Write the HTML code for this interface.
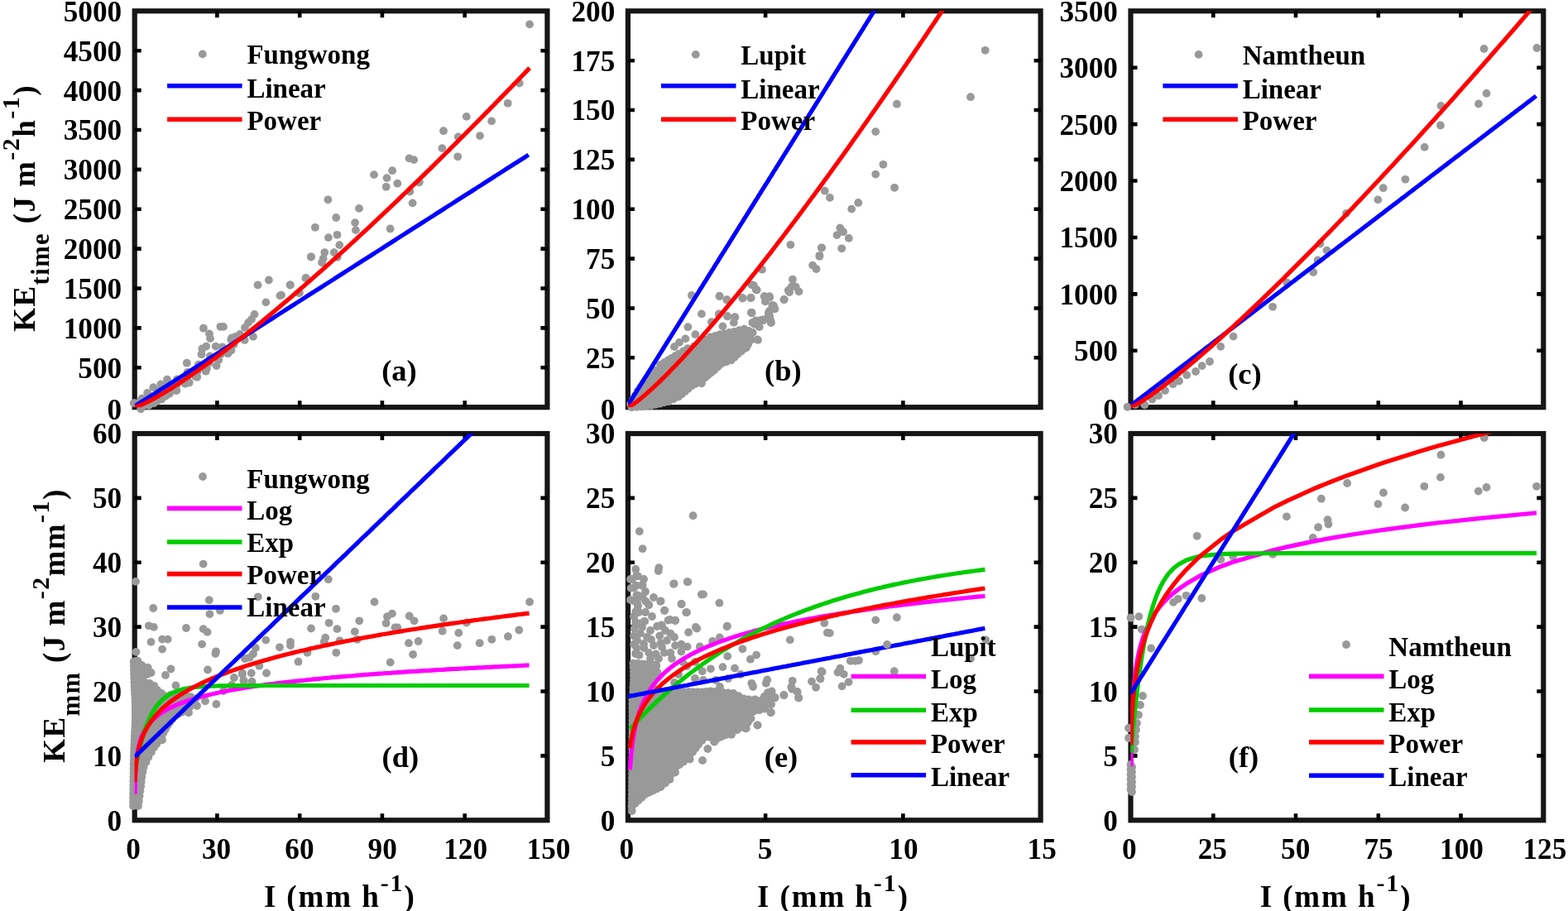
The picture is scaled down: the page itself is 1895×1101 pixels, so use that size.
<!DOCTYPE html><html><head><meta charset="utf-8"><title>KE vs I</title><style>html,body{margin:0;padding:0;background:#fff;overflow:hidden}svg{display:block}</style></head><body><div id="w"><svg width="1895" height="1101" viewBox="0 0 1895 1101" font-family='"Liberation Serif", "Times New Roman", serif' font-weight="bold">
<defs>
<clipPath id="clipa"><rect x="162.7" y="13.3" width="498.7" height="478.9"/></clipPath>
<clipPath id="clipb"><rect x="758.9" y="13.3" width="498.7" height="478.9"/></clipPath>
<clipPath id="clipc"><rect x="1366.5" y="13.3" width="498.8" height="478.9"/></clipPath>
<clipPath id="clipd"><rect x="162.7" y="524.0" width="498.7" height="467.3"/></clipPath>
<clipPath id="clipe"><rect x="758.9" y="524.0" width="498.7" height="467.3"/></clipPath>
<clipPath id="clipf"><rect x="1366.5" y="524.0" width="498.8" height="467.3"/></clipPath>
</defs>
<rect width="1895" height="1101" fill="#fff"/>
<rect x="162.7" y="13.3" width="498.7" height="478.9" fill="none" stroke="#161616" stroke-width="6.2"/>
<path d="M262.4,492.2v-8M262.4,13.3v8M362.2,492.2v-8M362.2,13.3v8M461.9,492.2v-8M461.9,13.3v8M561.7,492.2v-8M561.7,13.3v8M162.7,444.3h8M661.4,444.3h-8M162.7,396.4h8M661.4,396.4h-8M162.7,348.5h8M661.4,348.5h-8M162.7,300.6h8M661.4,300.6h-8M162.7,252.8h8M661.4,252.8h-8M162.7,204.9h8M661.4,204.9h-8M162.7,157h8M661.4,157h-8M162.7,109.1h8M661.4,109.1h-8M162.7,61.2h8M661.4,61.2h-8" stroke="#000" stroke-width="4.6" fill="none"/>
<g font-size="35.2"><text x="147.1" y="506.6" text-anchor="end">0</text><text x="147.1" y="456.7" text-anchor="end">500</text><text x="147.1" y="408.8" text-anchor="end">1000</text><text x="147.1" y="360.9" text-anchor="end">1500</text><text x="147.1" y="313" text-anchor="end">2000</text><text x="147.1" y="265.1" text-anchor="end">2500</text><text x="147.1" y="217.3" text-anchor="end">3000</text><text x="147.1" y="169.4" text-anchor="end">3500</text><text x="147.1" y="121.5" text-anchor="end">4000</text><text x="147.1" y="73.6" text-anchor="end">4500</text><text x="147.1" y="25.7" text-anchor="end">5000</text></g>
<rect x="758.9" y="13.3" width="498.7" height="478.9" fill="none" stroke="#161616" stroke-width="6.2"/>
<path d="M925.1,492.2v-8M925.1,13.3v8M1091.4,492.2v-8M1091.4,13.3v8M758.9,432.3h8M1257.6,432.3h-8M758.9,372.5h8M1257.6,372.5h-8M758.9,312.6h8M1257.6,312.6h-8M758.9,252.8h8M1257.6,252.8h-8M758.9,192.9h8M1257.6,192.9h-8M758.9,133h8M1257.6,133h-8M758.9,73.2h8M1257.6,73.2h-8" stroke="#000" stroke-width="4.6" fill="none"/>
<g font-size="35.2"><text x="743.3" y="506.6" text-anchor="end">0</text><text x="743.3" y="444.7" text-anchor="end">25</text><text x="743.3" y="384.9" text-anchor="end">50</text><text x="743.3" y="325" text-anchor="end">75</text><text x="743.3" y="265.1" text-anchor="end">100</text><text x="743.3" y="205.3" text-anchor="end">125</text><text x="743.3" y="145.4" text-anchor="end">150</text><text x="743.3" y="85.6" text-anchor="end">175</text><text x="743.3" y="25.7" text-anchor="end">200</text></g>
<rect x="1366.5" y="13.3" width="498.8" height="478.9" fill="none" stroke="#161616" stroke-width="6.2"/>
<path d="M1466.3,492.2v-8M1466.3,13.3v8M1566,492.2v-8M1566,13.3v8M1665.8,492.2v-8M1665.8,13.3v8M1765.5,492.2v-8M1765.5,13.3v8M1366.5,423.8h8M1865.3,423.8h-8M1366.5,355.4h8M1865.3,355.4h-8M1366.5,287h8M1865.3,287h-8M1366.5,218.5h8M1865.3,218.5h-8M1366.5,150.1h8M1865.3,150.1h-8M1366.5,81.7h8M1865.3,81.7h-8" stroke="#000" stroke-width="4.6" fill="none"/>
<g font-size="35.2"><text x="1350.9" y="506.6" text-anchor="end">0</text><text x="1350.9" y="436.2" text-anchor="end">500</text><text x="1350.9" y="367.8" text-anchor="end">1000</text><text x="1350.9" y="299.4" text-anchor="end">1500</text><text x="1350.9" y="230.9" text-anchor="end">2000</text><text x="1350.9" y="162.5" text-anchor="end">2500</text><text x="1350.9" y="94.1" text-anchor="end">3000</text><text x="1350.9" y="25.7" text-anchor="end">3500</text></g>
<rect x="162.7" y="524.0" width="498.7" height="467.3" fill="none" stroke="#161616" stroke-width="6.2"/>
<path d="M262.4,991.3v-8M262.4,524v8M362.2,991.3v-8M362.2,524v8M461.9,991.3v-8M461.9,524v8M561.7,991.3v-8M561.7,524v8M162.7,913.4h8M661.4,913.4h-8M162.7,835.5h8M661.4,835.5h-8M162.7,757.6h8M661.4,757.6h-8M162.7,679.8h8M661.4,679.8h-8M162.7,601.9h8M661.4,601.9h-8" stroke="#000" stroke-width="4.6" fill="none"/>
<g font-size="35.2"><text x="147.1" y="1003.7" text-anchor="end">0</text><text x="147.1" y="925.8" text-anchor="end">10</text><text x="147.1" y="847.9" text-anchor="end">20</text><text x="147.1" y="770" text-anchor="end">30</text><text x="147.1" y="692.2" text-anchor="end">40</text><text x="147.1" y="614.3" text-anchor="end">50</text><text x="147.1" y="536.4" text-anchor="end">60</text><text x="161.1" y="1038.2" text-anchor="middle">0</text><text x="261.5" y="1038.2" text-anchor="middle">30</text><text x="361.9" y="1038.2" text-anchor="middle">60</text><text x="462.2" y="1038.2" text-anchor="middle">90</text><text x="562.6" y="1038.2" text-anchor="middle">120</text><text x="663" y="1038.2" text-anchor="middle">150</text></g>
<rect x="758.9" y="524.0" width="498.7" height="467.3" fill="none" stroke="#161616" stroke-width="6.2"/>
<path d="M925.1,991.3v-8M925.1,524v8M1091.4,991.3v-8M1091.4,524v8M758.9,913.4h8M1257.6,913.4h-8M758.9,835.5h8M1257.6,835.5h-8M758.9,757.6h8M1257.6,757.6h-8M758.9,679.8h8M1257.6,679.8h-8M758.9,601.9h8M1257.6,601.9h-8" stroke="#000" stroke-width="4.6" fill="none"/>
<g font-size="35.2"><text x="743.3" y="1003.7" text-anchor="end">0</text><text x="743.3" y="925.8" text-anchor="end">5</text><text x="743.3" y="847.9" text-anchor="end">10</text><text x="743.3" y="770" text-anchor="end">15</text><text x="743.3" y="692.2" text-anchor="end">20</text><text x="743.3" y="614.3" text-anchor="end">25</text><text x="743.3" y="536.4" text-anchor="end">30</text><text x="757.3" y="1038.2" text-anchor="middle">0</text><text x="924.6" y="1038.2" text-anchor="middle">5</text><text x="1091.9" y="1038.2" text-anchor="middle">10</text><text x="1259.2" y="1038.2" text-anchor="middle">15</text></g>
<rect x="1366.5" y="524.0" width="498.8" height="467.3" fill="none" stroke="#161616" stroke-width="6.2"/>
<path d="M1466.3,991.3v-8M1466.3,524v8M1566,991.3v-8M1566,524v8M1665.8,991.3v-8M1665.8,524v8M1765.5,991.3v-8M1765.5,524v8M1366.5,913.4h8M1865.3,913.4h-8M1366.5,835.5h8M1865.3,835.5h-8M1366.5,757.6h8M1865.3,757.6h-8M1366.5,679.8h8M1865.3,679.8h-8M1366.5,601.9h8M1865.3,601.9h-8" stroke="#000" stroke-width="4.6" fill="none"/>
<g font-size="35.2"><text x="1350.9" y="1003.7" text-anchor="end">0</text><text x="1350.9" y="925.8" text-anchor="end">5</text><text x="1350.9" y="847.9" text-anchor="end">10</text><text x="1350.9" y="770" text-anchor="end">15</text><text x="1350.9" y="692.2" text-anchor="end">20</text><text x="1350.9" y="614.3" text-anchor="end">25</text><text x="1350.9" y="536.4" text-anchor="end">30</text><text x="1364.9" y="1038.2" text-anchor="middle">0</text><text x="1465.3" y="1038.2" text-anchor="middle">25</text><text x="1565.7" y="1038.2" text-anchor="middle">50</text><text x="1666.1" y="1038.2" text-anchor="middle">75</text><text x="1766.5" y="1038.2" text-anchor="middle">100</text><text x="1866.9" y="1038.2" text-anchor="middle">125</text></g>
<g fill="#999999"><circle cx="494.5" cy="191.4" r="4.9"/><circle cx="500.2" cy="193.1" r="4.9"/><circle cx="474.1" cy="206.2" r="4.9"/><circle cx="452" cy="211.1" r="4.9"/><circle cx="467.5" cy="215.1" r="4.9"/><circle cx="466.7" cy="225.8" r="4.9"/><circle cx="480.3" cy="221.7" r="4.9"/><circle cx="506.7" cy="220.1" r="4.9"/><circle cx="495.3" cy="231.5" r="4.9"/><circle cx="498.6" cy="245.4" r="4.9"/><circle cx="396.4" cy="241.3" r="4.9"/><circle cx="434" cy="251.9" r="4.9"/><circle cx="406.2" cy="263" r="4.9"/><circle cx="429.1" cy="269.1" r="4.9"/><circle cx="429.9" cy="278.1" r="4.9"/><circle cx="471.6" cy="276.5" r="4.9"/><circle cx="380.9" cy="274.8" r="4.9"/><circle cx="396.9" cy="287.1" r="4.9"/><circle cx="407.5" cy="283.8" r="4.9"/><circle cx="410.3" cy="296.1" r="4.9"/><circle cx="392.3" cy="305.1" r="4.9"/><circle cx="390.7" cy="312.4" r="4.9"/><circle cx="389" cy="317.3" r="4.9"/><circle cx="403.8" cy="305.1" r="4.9"/><circle cx="407.8" cy="310.8" r="4.9"/><circle cx="376" cy="310.3" r="4.9"/><circle cx="369.4" cy="336.1" r="4.9"/><circle cx="350.6" cy="344.3" r="4.9"/><circle cx="361.3" cy="354.1" r="4.9"/><circle cx="340" cy="356.6" r="4.9"/><circle cx="245.9" cy="396.7" r="4.9"/><circle cx="266.4" cy="394.8" r="4.9"/><circle cx="253" cy="403.4" r="4.9"/><circle cx="254" cy="409.1" r="4.9"/><circle cx="279.3" cy="410.5" r="4.9"/><circle cx="249.2" cy="418.6" r="4.9"/><circle cx="244.4" cy="421.5" r="4.9"/><circle cx="260.7" cy="418.6" r="4.9"/><circle cx="243.5" cy="428.2" r="4.9"/><circle cx="225.8" cy="438.7" r="4.9"/><circle cx="261.6" cy="442" r="4.9"/><circle cx="248.7" cy="448.7" r="4.9"/><circle cx="275.5" cy="427.2" r="4.9"/><circle cx="238.2" cy="455.8" r="4.9"/><circle cx="228.7" cy="462.5" r="4.9"/><circle cx="202" cy="458.7" r="4.9"/><circle cx="194.4" cy="464.4" r="4.9"/><circle cx="185.3" cy="468.2" r="4.9"/><circle cx="178.1" cy="474.9" r="4.9"/><circle cx="213.4" cy="472.1" r="4.9"/><circle cx="204.8" cy="475.9" r="4.9"/><circle cx="195.3" cy="482.6" r="4.9"/><circle cx="185.8" cy="487.3" r="4.9"/><circle cx="171.5" cy="481.6" r="4.9"/><circle cx="163.8" cy="487.3" r="4.9"/><circle cx="172.4" cy="491.1" r="4.9"/><circle cx="375.9" cy="310.5" r="4.9"/><circle cx="324.9" cy="338.5" r="4.9"/><circle cx="311.5" cy="344.5" r="4.9"/><circle cx="350.9" cy="344.5" r="4.9"/><circle cx="369.9" cy="336" r="4.9"/><circle cx="338.4" cy="357.4" r="4.9"/><circle cx="321.4" cy="365.4" r="4.9"/><circle cx="361.9" cy="353.9" r="4.9"/><circle cx="307.5" cy="379.9" r="4.9"/><circle cx="304" cy="385.9" r="4.9"/><circle cx="300" cy="389.9" r="4.9"/><circle cx="296" cy="395.9" r="4.9"/><circle cx="290" cy="403.9" r="4.9"/><circle cx="280" cy="408.4" r="4.9"/><circle cx="306" cy="406.9" r="4.9"/><circle cx="270" cy="394.9" r="4.9"/><circle cx="613.7" cy="124.8" r="4.9"/><circle cx="563.8" cy="140.9" r="4.9"/><circle cx="594.1" cy="146.4" r="4.9"/><circle cx="536" cy="158.2" r="4.9"/><circle cx="553.8" cy="165.5" r="4.9"/><circle cx="580" cy="164.1" r="4.9"/><circle cx="534.3" cy="179.1" r="4.9"/><circle cx="553.2" cy="189.3" r="4.9"/><circle cx="506.5" cy="220.4" r="4.9"/><circle cx="640.1" cy="29.4" r="4.9"/><circle cx="627.7" cy="100.5" r="4.9"/><circle cx="161.7" cy="487.1" r="4.9"/><circle cx="170.2" cy="494.3" r="4.9"/><circle cx="171.1" cy="489.7" r="4.9"/><circle cx="170.9" cy="483.3" r="4.9"/><circle cx="179.7" cy="490" r="4.9"/><circle cx="180.7" cy="485.1" r="4.9"/><circle cx="180.8" cy="478.3" r="4.9"/><circle cx="189.7" cy="484.8" r="4.9"/><circle cx="191" cy="479.5" r="4.9"/><circle cx="191.2" cy="472.5" r="4.9"/><circle cx="200.4" cy="478.6" r="4.9"/><circle cx="201.9" cy="473.1" r="4.9"/><circle cx="202.3" cy="465.8" r="4.9"/><circle cx="211.7" cy="471.7" r="4.9"/><circle cx="213.4" cy="465.8" r="4.9"/><circle cx="214.1" cy="458.3" r="4.9"/><circle cx="223.7" cy="463.9" r="4.9"/><circle cx="225.6" cy="457.8" r="4.9"/><circle cx="226.6" cy="449.9" r="4.9"/><circle cx="236.4" cy="455.2" r="4.9"/><circle cx="238.6" cy="448.8" r="4.9"/><circle cx="239.8" cy="440.6" r="4.9"/><circle cx="249.9" cy="445.6" r="4.9"/><circle cx="252.4" cy="438.9" r="4.9"/><circle cx="253.9" cy="430.4" r="4.9"/><circle cx="264.3" cy="435.1" r="4.9"/><circle cx="267.1" cy="428.1" r="4.9"/><circle cx="268.8" cy="419.3" r="4.9"/><circle cx="279.5" cy="423.6" r="4.9"/><circle cx="282.6" cy="416.2" r="4.9"/><circle cx="284.7" cy="407" r="4.9"/><circle cx="295.7" cy="411" r="4.9"/></g>
<polyline clip-path="url(#clipa)" points="162.7,491.1 165.1,489.5 167.5,488 169.8,486.5 172.2,485 174.6,483.5 177,481.9 179.4,480.4 181.7,478.9 184.1,477.4 186.5,475.9 188.9,474.3 191.3,472.8 193.6,471.3 196,469.8 198.4,468.3 200.8,466.7 203.2,465.2 205.5,463.7 207.9,462.2 210.3,460.7 212.7,459.1 215.1,457.6 217.5,456.1 219.8,454.6 222.2,453.1 224.6,451.5 227,450 229.4,448.5 231.7,447 234.1,445.5 236.5,443.9 238.9,442.4 241.3,440.9 243.6,439.4 246,437.9 248.4,436.3 250.8,434.8 253.2,433.3 255.5,431.8 257.9,430.3 260.3,428.7 262.7,427.2 265.1,425.7 267.4,424.2 269.8,422.7 272.2,421.1 274.6,419.6 277,418.1 279.3,416.6 281.7,415.1 284.1,413.5 286.5,412 288.9,410.5 291.2,409 293.6,407.5 296,405.9 298.4,404.4 300.8,402.9 303.1,401.4 305.5,399.9 307.9,398.3 310.3,396.8 312.7,395.3 315,393.8 317.4,392.3 319.8,390.8 322.2,389.2 324.6,387.7 327,386.2 329.3,384.7 331.7,383.2 334.1,381.6 336.5,380.1 338.9,378.6 341.2,377.1 343.6,375.6 346,374 348.4,372.5 350.8,371 353.1,369.5 355.5,368 357.9,366.4 360.3,364.9 362.7,363.4 365,361.9 367.4,360.4 369.8,358.8 372.2,357.3 374.6,355.8 376.9,354.3 379.3,352.8 381.7,351.2 384.1,349.7 386.5,348.2 388.8,346.7 391.2,345.2 393.6,343.6 396,342.1 398.4,340.6 400.7,339.1 403.1,337.6 405.5,336 407.9,334.5 410.3,333 412.6,331.5 415,330 417.4,328.4 419.8,326.9 422.2,325.4 424.6,323.9 426.9,322.4 429.3,320.8 431.7,319.3 434.1,317.8 436.5,316.3 438.8,314.8 441.2,313.2 443.6,311.7 446,310.2 448.4,308.7 450.7,307.2 453.1,305.6 455.5,304.1 457.9,302.6 460.3,301.1 462.6,299.6 465,298 467.4,296.5 469.8,295 472.2,293.5 474.5,292 476.9,290.5 479.3,288.9 481.7,287.4 484.1,285.9 486.4,284.4 488.8,282.9 491.2,281.3 493.6,279.8 496,278.3 498.3,276.8 500.7,275.3 503.1,273.7 505.5,272.2 507.9,270.7 510.2,269.2 512.6,267.7 515,266.1 517.4,264.6 519.8,263.1 522.1,261.6 524.5,260.1 526.9,258.5 529.3,257 531.7,255.5 534.1,254 536.4,252.5 538.8,250.9 541.2,249.4 543.6,247.9 546,246.4 548.3,244.9 550.7,243.3 553.1,241.8 555.5,240.3 557.9,238.8 560.2,237.3 562.6,235.7 565,234.2 567.4,232.7 569.8,231.2 572.1,229.7 574.5,228.1 576.9,226.6 579.3,225.1 581.7,223.6 584,222.1 586.4,220.5 588.8,219 591.2,217.5 593.6,216 595.9,214.5 598.3,212.9 600.7,211.4 603.1,209.9 605.5,208.4 607.8,206.9 610.2,205.3 612.6,203.8 615,202.3 617.4,200.8 619.7,199.3 622.1,197.7 624.5,196.2 626.9,194.7 629.3,193.2 631.7,191.7 634,190.2 636.4,188.6 638.8,187.1" fill="none" stroke="#0000ff" stroke-width="5.2" stroke-linejoin="round"/>
<polyline clip-path="url(#clipa)" points="162.7,492.2 165.1,491.5 167.5,490.7 169.9,489.7 172.2,488.6 174.6,487.5 177,486.4 179.4,485.2 181.8,484 184.2,482.7 186.6,481.4 189,480.1 191.3,478.7 193.7,477.3 196.1,476 198.5,474.5 200.9,473.1 203.3,471.6 205.7,470.2 208.1,468.7 210.4,467.1 212.8,465.6 215.2,464.1 217.6,462.5 220,460.9 222.4,459.3 224.8,457.7 227.2,456.1 229.5,454.5 231.9,452.9 234.3,451.2 236.7,449.5 239.1,447.9 241.5,446.2 243.9,444.5 246.2,442.8 248.6,441.1 251,439.3 253.4,437.6 255.8,435.8 258.2,434.1 260.6,432.3 263,430.5 265.3,428.7 267.7,426.9 270.1,425.1 272.5,423.3 274.9,421.5 277.3,419.7 279.7,417.8 282.1,416 284.4,414.1 286.8,412.3 289.2,410.4 291.6,408.5 294,406.6 296.4,404.8 298.8,402.9 301.2,400.9 303.5,399 305.9,397.1 308.3,395.2 310.7,393.3 313.1,391.3 315.5,389.4 317.9,387.4 320.2,385.4 322.6,383.5 325,381.5 327.4,379.5 329.8,377.5 332.2,375.6 334.6,373.6 337,371.6 339.3,369.5 341.7,367.5 344.1,365.5 346.5,363.5 348.9,361.4 351.3,359.4 353.7,357.4 356.1,355.3 358.4,353.3 360.8,351.2 363.2,349.1 365.6,347.1 368,345 370.4,342.9 372.8,340.8 375.2,338.7 377.5,336.6 379.9,334.5 382.3,332.4 384.7,330.3 387.1,328.2 389.5,326.1 391.9,324 394.2,321.8 396.6,319.7 399,317.6 401.4,315.4 403.8,313.3 406.2,311.1 408.6,309 411,306.8 413.3,304.6 415.7,302.5 418.1,300.3 420.5,298.1 422.9,295.9 425.3,293.7 427.7,291.5 430.1,289.3 432.4,287.1 434.8,284.9 437.2,282.7 439.6,280.5 442,278.3 444.4,276.1 446.8,273.8 449.2,271.6 451.5,269.4 453.9,267.1 456.3,264.9 458.7,262.7 461.1,260.4 463.5,258.2 465.9,255.9 468.3,253.6 470.6,251.4 473,249.1 475.4,246.8 477.8,244.6 480.2,242.3 482.6,240 485,237.7 487.3,235.4 489.7,233.1 492.1,230.8 494.5,228.5 496.9,226.2 499.3,223.9 501.7,221.6 504.1,219.3 506.4,217 508.8,214.6 511.2,212.3 513.6,210 516,207.7 518.4,205.3 520.8,203 523.2,200.6 525.5,198.3 527.9,195.9 530.3,193.6 532.7,191.2 535.1,188.9 537.5,186.5 539.9,184.2 542.3,181.8 544.6,179.4 547,177 549.4,174.7 551.8,172.3 554.2,169.9 556.6,167.5 559,165.1 561.3,162.7 563.7,160.3 566.1,157.9 568.5,155.5 570.9,153.1 573.3,150.7 575.7,148.3 578.1,145.9 580.4,143.5 582.8,141 585.2,138.6 587.6,136.2 590,133.8 592.4,131.3 594.8,128.9 597.2,126.5 599.5,124 601.9,121.6 604.3,119.1 606.7,116.7 609.1,114.2 611.5,111.8 613.9,109.3 616.3,106.9 618.6,104.4 621,101.9 623.4,99.5 625.8,97 628.2,94.5 630.6,92 633,89.5 635.3,87.1 637.7,84.6 640.1,82.1" fill="none" stroke="#ff0000" stroke-width="5.2" stroke-linejoin="round"/>
<polygon points="759.5,490 768,474 778,459 788,448 795,441 804.4,434.9 817.9,425.9 829.9,418.4 838.9,415.4 850.9,410.9 859.9,404.9 871.9,401.9 889.8,398.9 901.8,395.9 912.3,400.4 910.8,409.4 903.3,419.9 894.3,427.4 886.8,434.9 874.9,439.4 865.9,448.4 853.9,458.8 844.9,464.8 835,469.5 818.6,482.2 805.9,487.6 785,492.2 761,494" fill="#999999"/>
<g fill="#999999"><circle cx="835.9" cy="357" r="4.9"/><circle cx="847.9" cy="379.4" r="4.9"/><circle cx="831.4" cy="395.2" r="4.9"/><circle cx="840.4" cy="404.2" r="4.9"/><circle cx="828.4" cy="409.4" r="4.9"/><circle cx="814.9" cy="419.1" r="4.9"/><circle cx="820.9" cy="413.9" r="4.9"/><circle cx="869.6" cy="357.7" r="4.9"/><circle cx="878.6" cy="362.2" r="4.9"/><circle cx="868.9" cy="379.4" r="4.9"/><circle cx="859.9" cy="389.2" r="4.9"/><circle cx="879.3" cy="382.4" r="4.9"/><circle cx="888.3" cy="383.2" r="4.9"/><circle cx="886.8" cy="389.9" r="4.9"/><circle cx="873.4" cy="394.4" r="4.9"/><circle cx="897.3" cy="360" r="4.9"/><circle cx="907.1" cy="360" r="4.9"/><circle cx="907.8" cy="377.9" r="4.9"/><circle cx="910.8" cy="345" r="4.9"/><circle cx="913.8" cy="350.2" r="4.9"/><circle cx="924.3" cy="358.5" r="4.9"/><circle cx="930.3" cy="359.2" r="4.9"/><circle cx="933.3" cy="369" r="4.9"/><circle cx="936.3" cy="373.4" r="4.9"/><circle cx="928.8" cy="377.9" r="4.9"/><circle cx="930.3" cy="383.9" r="4.9"/><circle cx="931.8" cy="389.9" r="4.9"/><circle cx="919.8" cy="386.9" r="4.9"/><circle cx="913.8" cy="391.4" r="4.9"/><circle cx="909.3" cy="389.9" r="4.9"/><circle cx="916" cy="410.9" r="4.9"/><circle cx="901.8" cy="419.9" r="4.9"/><circle cx="947.5" cy="362.2" r="4.9"/><circle cx="952.8" cy="351" r="4.9"/><circle cx="883.8" cy="433.4" r="4.9"/><circle cx="847.9" cy="463.3" r="4.9"/><circle cx="840.4" cy="430.4" r="4.9"/><circle cx="955.4" cy="295.8" r="4.9"/><circle cx="992.9" cy="299.6" r="4.9"/><circle cx="990.3" cy="309.8" r="4.9"/><circle cx="982.1" cy="320.6" r="4.9"/><circle cx="986.5" cy="325" r="4.9"/><circle cx="921" cy="325.7" r="4.9"/><circle cx="957.9" cy="337.7" r="4.9"/><circle cx="956.6" cy="346.6" r="4.9"/><circle cx="961.7" cy="346.6" r="4.9"/><circle cx="965.5" cy="352.4" r="4.9"/><circle cx="954.1" cy="353" r="4.9"/><circle cx="947.7" cy="361.9" r="4.9"/><circle cx="908.3" cy="344.1" r="4.9"/><circle cx="914.7" cy="350.5" r="4.9"/><circle cx="869.5" cy="358.1" r="4.9"/><circle cx="878.4" cy="362.5" r="4.9"/><circle cx="897.5" cy="360.6" r="4.9"/><circle cx="907.7" cy="360" r="4.9"/><circle cx="923.6" cy="358.1" r="4.9"/><circle cx="929.9" cy="358.1" r="4.9"/><circle cx="924.9" cy="364.4" r="4.9"/><circle cx="935" cy="369.5" r="4.9"/><circle cx="936.3" cy="373.3" r="4.9"/><circle cx="929.9" cy="375.9" r="4.9"/><circle cx="928.7" cy="382.2" r="4.9"/><circle cx="908.3" cy="377.8" r="4.9"/><circle cx="868.9" cy="379.7" r="4.9"/><circle cx="879.1" cy="382.2" r="4.9"/><circle cx="888" cy="383.5" r="4.9"/><circle cx="913.4" cy="387.3" r="4.9"/><circle cx="922.3" cy="387.3" r="4.9"/><circle cx="931.2" cy="387.3" r="4.9"/><circle cx="1083.9" cy="125.7" r="4.9"/><circle cx="1058.2" cy="159.1" r="4.9"/><circle cx="1067.4" cy="198.8" r="4.9"/><circle cx="1058.2" cy="210.6" r="4.9"/><circle cx="1081.1" cy="226.8" r="4.9"/><circle cx="996.8" cy="230.7" r="4.9"/><circle cx="1002.9" cy="238.9" r="4.9"/><circle cx="1037.2" cy="245" r="4.9"/><circle cx="1029.2" cy="252.6" r="4.9"/><circle cx="1015.3" cy="275.5" r="4.9"/><circle cx="1019.1" cy="280.2" r="4.9"/><circle cx="1011.5" cy="284.1" r="4.9"/><circle cx="1025.8" cy="287.9" r="4.9"/><circle cx="993" cy="299.3" r="4.9"/><circle cx="1017.2" cy="300.3" r="4.9"/><circle cx="990.5" cy="308.8" r="4.9"/><circle cx="1190.7" cy="60.8" r="4.9"/><circle cx="1173" cy="117.2" r="4.9"/><circle cx="908.6" cy="378.2" r="4.9"/><circle cx="934.5" cy="372.7" r="4.9"/><circle cx="930" cy="381.8" r="4.9"/><circle cx="931.8" cy="390" r="4.9"/><circle cx="922.7" cy="386.3" r="4.9"/><circle cx="911.8" cy="391.8" r="4.9"/><circle cx="917.7" cy="395" r="4.9"/><circle cx="903.6" cy="400" r="4.9"/><circle cx="915.4" cy="410.4" r="4.9"/><circle cx="901.8" cy="420.4" r="4.9"/><circle cx="762.1" cy="488.4" r="4.9"/><circle cx="764.9" cy="483.2" r="4.9"/><circle cx="767.8" cy="478" r="4.9"/><circle cx="770.7" cy="472.7" r="4.9"/><circle cx="774.1" cy="467.9" r="4.9"/><circle cx="777.5" cy="463" r="4.9"/><circle cx="780.9" cy="458.2" r="4.9"/><circle cx="785.9" cy="452.9" r="4.9"/><circle cx="791" cy="447.6" r="4.9"/><circle cx="798" cy="441" r="4.9"/><circle cx="802.7" cy="438.2" r="4.9"/><circle cx="807.4" cy="435.4" r="4.9"/><circle cx="811.8" cy="432.8" r="4.9"/><circle cx="816.1" cy="430.2" r="4.9"/><circle cx="820.4" cy="427.6" r="4.9"/><circle cx="825.8" cy="424.5" r="4.9"/><circle cx="831.1" cy="421.2" r="4.9"/><circle cx="839" cy="418.4" r="4.9"/><circle cx="844.3" cy="416.1" r="4.9"/><circle cx="849.8" cy="413.7" r="4.9"/><circle cx="854.1" cy="410.6" r="4.9"/><circle cx="858.4" cy="407.5" r="4.9"/><circle cx="864.2" cy="405.9" r="4.9"/><circle cx="870" cy="404.2" r="4.9"/><circle cx="875.8" cy="403.1" r="4.9"/><circle cx="881.6" cy="401.9" r="4.9"/><circle cx="887.5" cy="400.8" r="4.9"/><circle cx="893.4" cy="399.2" r="4.9"/><circle cx="899.4" cy="397.7" r="4.9"/><circle cx="904.5" cy="399.8" r="4.9"/><circle cx="909.7" cy="401.9" r="4.9"/><circle cx="908.1" cy="410.6" r="4.9"/><circle cx="904.3" cy="415.7" r="4.9"/><circle cx="900.5" cy="420.8" r="4.9"/><circle cx="895.9" cy="424.5" r="4.9"/><circle cx="891.4" cy="428.1" r="4.9"/><circle cx="887.6" cy="431.7" r="4.9"/><circle cx="883.8" cy="435.3" r="4.9"/><circle cx="877.9" cy="437.4" r="4.9"/><circle cx="871.9" cy="439.5" r="4.9"/><circle cx="867.4" cy="443.6" r="4.9"/><circle cx="863" cy="447.6" r="4.9"/><circle cx="859.2" cy="450.6" r="4.9"/><circle cx="855.5" cy="453.5" r="4.9"/><circle cx="852" cy="456.5" r="4.9"/><circle cx="848.1" cy="459.1" r="4.9"/><circle cx="844.2" cy="461.9" r="4.9"/><circle cx="839.9" cy="464.2" r="4.9"/><circle cx="835.5" cy="466.5" r="4.9"/><circle cx="831.7" cy="469.8" r="4.9"/><circle cx="827.8" cy="473" r="4.9"/><circle cx="823.9" cy="476.3" r="4.9"/><circle cx="820" cy="479.5" r="4.9"/><circle cx="813.8" cy="482.4" r="4.9"/><circle cx="807.7" cy="485.2" r="4.9"/><circle cx="802.6" cy="486.4" r="4.9"/><circle cx="797.5" cy="487.7" r="4.9"/><circle cx="792.3" cy="488.9" r="4.9"/><circle cx="787.2" cy="490.1" r="4.9"/><circle cx="781.3" cy="490.7" r="4.9"/><circle cx="775.4" cy="491.3" r="4.9"/><circle cx="769.4" cy="491.8" r="4.9"/><circle cx="763.5" cy="492.3" r="4.9"/></g>
<polyline clip-path="url(#clipb)" points="758.9,489.6 760.6,486.9 762.2,484.2 763.9,481.6 765.5,478.9 767.2,476.3 768.9,473.6 770.5,470.9 772.2,468.3 773.9,465.6 775.5,463 777.2,460.3 778.8,457.6 780.5,455 782.2,452.3 783.8,449.6 785.5,447 787.2,444.3 788.8,441.7 790.5,439 792.1,436.3 793.8,433.7 795.5,431 797.1,428.4 798.8,425.7 800.5,423 802.1,420.4 803.8,417.7 805.4,415 807.1,412.4 808.8,409.7 810.4,407.1 812.1,404.4 813.8,401.7 815.4,399.1 817.1,396.4 818.7,393.8 820.4,391.1 822.1,388.4 823.7,385.8 825.4,383.1 827.1,380.4 828.7,377.8 830.4,375.1 832,372.5 833.7,369.8 835.4,367.1 837,364.5 838.7,361.8 840.4,359.2 842,356.5 843.7,353.8 845.3,351.2 847,348.5 848.7,345.8 850.3,343.2 852,340.5 853.7,337.9 855.3,335.2 857,332.5 858.6,329.9 860.3,327.2 862,324.6 863.6,321.9 865.3,319.2 867,316.6 868.6,313.9 870.3,311.2 871.9,308.6 873.6,305.9 875.3,303.3 876.9,300.6 878.6,297.9 880.3,295.3 881.9,292.6 883.6,290 885.2,287.3 886.9,284.6 888.6,282 890.2,279.3 891.9,276.6 893.5,274 895.2,271.3 896.9,268.7 898.5,266 900.2,263.3 901.9,260.7 903.5,258 905.2,255.4 906.8,252.7 908.5,250 910.2,247.4 911.8,244.7 913.5,242 915.2,239.4 916.8,236.7 918.5,234.1 920.1,231.4 921.8,228.7 923.5,226.1 925.1,223.4 926.8,220.8 928.5,218.1 930.1,215.4 931.8,212.8 933.4,210.1 935.1,207.4 936.8,204.8 938.4,202.1 940.1,199.5 941.8,196.8 943.4,194.1 945.1,191.5 946.7,188.8 948.4,186.2 950.1,183.5 951.7,180.8 953.4,178.2 955.1,175.5 956.7,172.8 958.4,170.2 960,167.5 961.7,164.9 963.4,162.2 965,159.5 966.7,156.9 968.4,154.2 970,151.6 971.7,148.9 973.3,146.2 975,143.6 976.7,140.9 978.3,138.2 980,135.6 981.7,132.9 983.3,130.3 985,127.6 986.6,124.9 988.3,122.3 990,119.6 991.6,117 993.3,114.3 995,111.6 996.6,109 998.3,106.3 999.9,103.7 1001.6,101 1003.3,98.3 1004.9,95.7 1006.6,93 1008.2,90.3 1009.9,87.7 1011.6,85 1013.2,82.4 1014.9,79.7 1016.6,77 1018.2,74.4 1019.9,71.7 1021.5,69.1 1023.2,66.4 1024.9,63.7 1026.5,61.1 1028.2,58.4 1029.9,55.7 1031.5,53.1 1033.2,50.4 1034.8,47.8 1036.5,45.1 1038.2,42.4 1039.8,39.8 1041.5,37.1 1043.2,34.5 1044.8,31.8 1046.5,29.1 1048.1,26.5 1049.8,23.8 1051.5,21.1 1053.1,18.5 1054.8,15.8 1056.5,13.2 1058.1,10.5 1059.8,7.8 1061.4,5.2 1063.1,2.5 1064.8,-0.1 1066.4,-2.8 1068.1,-5.5 1069.8,-8.1 1071.4,-10.8 1073.1,-13.5 1074.7,-16.1 1076.4,-18.8 1078.1,-21.4 1079.7,-24.1 1081.4,-26.8 1083.1,-29.4 1084.7,-32.1 1086.4,-34.7 1088,-37.4 1089.7,-40.1 1091.4,-42.7" fill="none" stroke="#0000ff" stroke-width="5.2" stroke-linejoin="round"/>
<polyline clip-path="url(#clipb)" points="758.9,492.2 761,491.2 763.2,489.9 765.3,488.5 767.5,487 769.6,485.4 771.8,483.7 773.9,482 776.1,480.3 778.2,478.4 780.3,476.6 782.5,474.7 784.6,472.8 786.8,470.9 788.9,468.9 791.1,466.9 793.2,464.9 795.4,462.9 797.5,460.8 799.6,458.7 801.8,456.6 803.9,454.5 806.1,452.3 808.2,450.1 810.4,447.9 812.5,445.7 814.7,443.5 816.8,441.3 818.9,439 821.1,436.7 823.2,434.5 825.4,432.2 827.5,429.8 829.7,427.5 831.8,425.2 834,422.8 836.1,420.4 838.2,418.1 840.4,415.7 842.5,413.3 844.7,410.8 846.8,408.4 849,406 851.1,403.5 853.3,401.1 855.4,398.6 857.5,396.1 859.7,393.6 861.8,391.1 864,388.6 866.1,386.1 868.3,383.5 870.4,381 872.6,378.4 874.7,375.9 876.8,373.3 879,370.7 881.1,368.1 883.3,365.5 885.4,362.9 887.6,360.3 889.7,357.7 891.9,355 894,352.4 896.1,349.8 898.3,347.1 900.4,344.4 902.6,341.8 904.7,339.1 906.9,336.4 909,333.7 911.2,331 913.3,328.3 915.4,325.6 917.6,322.8 919.7,320.1 921.9,317.4 924,314.6 926.2,311.9 928.3,309.1 930.5,306.4 932.6,303.6 934.7,300.8 936.9,298 939,295.2 941.2,292.4 943.3,289.6 945.5,286.8 947.6,284 949.8,281.2 951.9,278.3 954,275.5 956.2,272.7 958.3,269.8 960.5,267 962.6,264.1 964.8,261.2 966.9,258.4 969.1,255.5 971.2,252.6 973.3,249.7 975.5,246.8 977.6,243.9 979.8,241 981.9,238.1 984.1,235.2 986.2,232.3 988.4,229.4 990.5,226.4 992.6,223.5 994.8,220.6 996.9,217.6 999.1,214.7 1001.2,211.7 1003.4,208.8 1005.5,205.8 1007.7,202.8 1009.8,199.8 1011.9,196.9 1014.1,193.9 1016.2,190.9 1018.4,187.9 1020.5,184.9 1022.7,181.9 1024.8,178.9 1027,175.9 1029.1,172.8 1031.2,169.8 1033.4,166.8 1035.5,163.8 1037.7,160.7 1039.8,157.7 1042,154.6 1044.1,151.6 1046.3,148.5 1048.4,145.5 1050.5,142.4 1052.7,139.3 1054.8,136.3 1057,133.2 1059.1,130.1 1061.3,127 1063.4,123.9 1065.6,120.9 1067.7,117.8 1069.8,114.7 1072,111.5 1074.1,108.4 1076.3,105.3 1078.4,102.2 1080.6,99.1 1082.7,96 1084.9,92.8 1087,89.7 1089.1,86.6 1091.3,83.4 1093.4,80.3 1095.6,77.1 1097.7,74 1099.9,70.8 1102,67.7 1104.2,64.5 1106.3,61.3 1108.4,58.2 1110.6,55 1112.7,51.8 1114.9,48.6 1117,45.4 1119.2,42.2 1121.3,39 1123.4,35.8 1125.6,32.6 1127.7,29.4 1129.9,26.2 1132,23 1134.2,19.8 1136.3,16.6 1138.5,13.4 1140.6,10.1 1142.7,6.9 1144.9,3.7 1147,0.4 1149.2,-2.8 1151.3,-6 1153.5,-9.3 1155.6,-12.5 1157.8,-15.8 1159.9,-19 1162,-22.3 1164.2,-25.6 1166.3,-28.8 1168.5,-32.1 1170.6,-35.4 1172.8,-38.7 1174.9,-41.9 1177.1,-45.2 1179.2,-48.5 1181.3,-51.8 1183.5,-55.1 1185.6,-58.4 1187.8,-61.7" fill="none" stroke="#ff0000" stroke-width="5.2" stroke-linejoin="round"/>
<g fill="#999999"><circle cx="1793.5" cy="59" r="4.9"/><circle cx="1857.4" cy="58" r="4.9"/><circle cx="1796.5" cy="112.9" r="4.9"/><circle cx="1786.9" cy="125.5" r="4.9"/><circle cx="1741.5" cy="127.9" r="4.9"/><circle cx="1740.9" cy="151.5" r="4.9"/><circle cx="1721.6" cy="177.9" r="4.9"/><circle cx="1698.4" cy="216.8" r="4.9"/><circle cx="1671.7" cy="227.2" r="4.9"/><circle cx="1665.3" cy="241.4" r="4.9"/><circle cx="1627.1" cy="257.8" r="4.9"/><circle cx="1595.4" cy="294.5" r="4.9"/><circle cx="1603.5" cy="302.6" r="4.9"/><circle cx="1592.6" cy="314.4" r="4.9"/><circle cx="1587.2" cy="329" r="4.9"/><circle cx="1555.4" cy="341.7" r="4.9"/><circle cx="1538.1" cy="370.8" r="4.9"/><circle cx="1490.6" cy="406.6" r="4.9"/><circle cx="1475.2" cy="418.8" r="4.9"/><circle cx="1452.6" cy="442.1" r="4.9"/><circle cx="1434.2" cy="453.2" r="4.9"/><circle cx="1425" cy="460.5" r="4.9"/><circle cx="1417.6" cy="464.2" r="4.9"/><circle cx="1392.5" cy="482.6" r="4.9"/><circle cx="1383.3" cy="489.3" r="4.9"/><circle cx="1362.5" cy="491.8" r="4.9"/><circle cx="1372" cy="489" r="4.9"/><circle cx="1400" cy="478" r="4.9"/><circle cx="1408" cy="472" r="4.9"/><circle cx="1445" cy="449" r="4.9"/><circle cx="1462" cy="437" r="4.9"/></g>
<polyline clip-path="url(#clipc)" points="1366.5,490.1 1369,488.3 1371.4,486.4 1373.9,484.5 1376.3,482.7 1378.8,480.8 1381.2,478.9 1383.7,477.1 1386.1,475.2 1388.6,473.3 1391,471.4 1393.5,469.6 1395.9,467.7 1398.4,465.8 1400.8,464 1403.3,462.1 1405.7,460.2 1408.2,458.3 1410.6,456.5 1413.1,454.6 1415.5,452.7 1418,450.9 1420.4,449 1422.9,447.1 1425.3,445.2 1427.8,443.4 1430.2,441.5 1432.7,439.6 1435.1,437.8 1437.6,435.9 1440,434 1442.5,432.1 1444.9,430.3 1447.4,428.4 1449.8,426.5 1452.3,424.7 1454.7,422.8 1457.2,420.9 1459.6,419.1 1462.1,417.2 1464.5,415.3 1467,413.4 1469.4,411.6 1471.9,409.7 1474.3,407.8 1476.8,406 1479.2,404.1 1481.7,402.2 1484.1,400.3 1486.6,398.5 1489,396.6 1491.5,394.7 1493.9,392.9 1496.4,391 1498.8,389.1 1501.3,387.2 1503.7,385.4 1506.2,383.5 1508.6,381.6 1511.1,379.8 1513.5,377.9 1516,376 1518.4,374.1 1520.9,372.3 1523.3,370.4 1525.8,368.5 1528.2,366.7 1530.7,364.8 1533.1,362.9 1535.6,361.1 1538,359.2 1540.5,357.3 1542.9,355.4 1545.4,353.6 1547.8,351.7 1550.3,349.8 1552.7,348 1555.2,346.1 1557.6,344.2 1560.1,342.3 1562.5,340.5 1565,338.6 1567.4,336.7 1569.9,334.9 1572.3,333 1574.8,331.1 1577.2,329.2 1579.7,327.4 1582.1,325.5 1584.6,323.6 1587,321.8 1589.5,319.9 1591.9,318 1594.4,316.1 1596.8,314.3 1599.3,312.4 1601.7,310.5 1604.2,308.7 1606.6,306.8 1609.1,304.9 1611.5,303.1 1614,301.2 1616.4,299.3 1618.9,297.4 1621.3,295.6 1623.8,293.7 1626.2,291.8 1628.7,290 1631.1,288.1 1633.6,286.2 1636,284.3 1638.5,282.5 1640.9,280.6 1643.4,278.7 1645.8,276.9 1648.3,275 1650.7,273.1 1653.2,271.2 1655.6,269.4 1658.1,267.5 1660.5,265.6 1663,263.8 1665.4,261.9 1667.9,260 1670.3,258.1 1672.8,256.3 1675.2,254.4 1677.7,252.5 1680.1,250.7 1682.6,248.8 1685,246.9 1687.5,245.1 1689.9,243.2 1692.4,241.3 1694.8,239.4 1697.3,237.6 1699.7,235.7 1702.2,233.8 1704.6,232 1707.1,230.1 1709.5,228.2 1712,226.3 1714.4,224.5 1716.9,222.6 1719.3,220.7 1721.8,218.9 1724.2,217 1726.7,215.1 1729.1,213.2 1731.6,211.4 1734,209.5 1736.5,207.6 1738.9,205.8 1741.4,203.9 1743.8,202 1746.3,200.1 1748.7,198.3 1751.2,196.4 1753.6,194.5 1756.1,192.7 1758.5,190.8 1761,188.9 1763.4,187.1 1765.9,185.2 1768.3,183.3 1770.8,181.4 1773.2,179.6 1775.7,177.7 1778.1,175.8 1780.6,174 1783,172.1 1785.5,170.2 1787.9,168.3 1790.4,166.5 1792.8,164.6 1795.3,162.7 1797.7,160.9 1800.2,159 1802.6,157.1 1805.1,155.2 1807.5,153.4 1810,151.5 1812.4,149.6 1814.9,147.8 1817.3,145.9 1819.8,144 1822.2,142.1 1824.7,140.3 1827.1,138.4 1829.6,136.5 1832,134.7 1834.5,132.8 1836.9,130.9 1839.4,129.1 1841.8,127.2 1844.3,125.3 1846.7,123.4 1849.2,121.6 1851.6,119.7 1854.1,117.8 1856.5,116" fill="none" stroke="#0000ff" stroke-width="5.2" stroke-linejoin="round"/>
<polyline clip-path="url(#clipc)" points="1366.5,492.2 1369,491.2 1371.5,489.9 1374,488.5 1376.5,487.1 1379,485.6 1381.5,484 1384,482.4 1386.5,480.7 1388.9,479 1391.4,477.3 1393.9,475.5 1396.4,473.7 1398.9,471.9 1401.4,470 1403.9,468.2 1406.4,466.3 1408.9,464.4 1411.4,462.5 1413.9,460.5 1416.4,458.6 1418.9,456.6 1421.4,454.6 1423.9,452.6 1426.4,450.5 1428.8,448.5 1431.3,446.5 1433.8,444.4 1436.3,442.3 1438.8,440.2 1441.3,438.1 1443.8,436 1446.3,433.9 1448.8,431.7 1451.3,429.6 1453.8,427.4 1456.3,425.2 1458.8,423.1 1461.3,420.9 1463.8,418.7 1466.3,416.5 1468.8,414.2 1471.2,412 1473.7,409.8 1476.2,407.5 1478.7,405.3 1481.2,403 1483.7,400.7 1486.2,398.4 1488.7,396.1 1491.2,393.9 1493.7,391.5 1496.2,389.2 1498.7,386.9 1501.2,384.6 1503.7,382.2 1506.2,379.9 1508.7,377.5 1511.2,375.2 1513.6,372.8 1516.1,370.5 1518.6,368.1 1521.1,365.7 1523.6,363.3 1526.1,360.9 1528.6,358.5 1531.1,356.1 1533.6,353.7 1536.1,351.2 1538.6,348.8 1541.1,346.4 1543.6,343.9 1546.1,341.5 1548.6,339 1551.1,336.6 1553.5,334.1 1556,331.6 1558.5,329.2 1561,326.7 1563.5,324.2 1566,321.7 1568.5,319.2 1571,316.7 1573.5,314.2 1576,311.7 1578.5,309.2 1581,306.7 1583.5,304.1 1586,301.6 1588.5,299.1 1591,296.5 1593.5,294 1595.9,291.4 1598.4,288.9 1600.9,286.3 1603.4,283.7 1605.9,281.2 1608.4,278.6 1610.9,276 1613.4,273.4 1615.9,270.8 1618.4,268.2 1620.9,265.6 1623.4,263 1625.9,260.4 1628.4,257.8 1630.9,255.2 1633.4,252.6 1635.9,250 1638.3,247.3 1640.8,244.7 1643.3,242.1 1645.8,239.4 1648.3,236.8 1650.8,234.1 1653.3,231.5 1655.8,228.8 1658.3,226.2 1660.8,223.5 1663.3,220.8 1665.8,218.2 1668.3,215.5 1670.8,212.8 1673.3,210.1 1675.8,207.4 1678.2,204.8 1680.7,202.1 1683.2,199.4 1685.7,196.7 1688.2,194 1690.7,191.2 1693.2,188.5 1695.7,185.8 1698.2,183.1 1700.7,180.4 1703.2,177.7 1705.7,174.9 1708.2,172.2 1710.7,169.5 1713.2,166.7 1715.7,164 1718.2,161.2 1720.6,158.5 1723.1,155.7 1725.6,153 1728.1,150.2 1730.6,147.5 1733.1,144.7 1735.6,141.9 1738.1,139.1 1740.6,136.4 1743.1,133.6 1745.6,130.8 1748.1,128 1750.6,125.2 1753.1,122.5 1755.6,119.7 1758.1,116.9 1760.6,114.1 1763,111.3 1765.5,108.5 1768,105.6 1770.5,102.8 1773,100 1775.5,97.2 1778,94.4 1780.5,91.6 1783,88.7 1785.5,85.9 1788,83.1 1790.5,80.2 1793,77.4 1795.5,74.6 1798,71.7 1800.5,68.9 1802.9,66 1805.4,63.2 1807.9,60.3 1810.4,57.4 1812.9,54.6 1815.4,51.7 1817.9,48.9 1820.4,46 1822.9,43.1 1825.4,40.2 1827.9,37.4 1830.4,34.5 1832.9,31.6 1835.4,28.7 1837.9,25.8 1840.4,22.9 1842.9,20.1 1845.3,17.2 1847.8,14.3 1850.3,11.4 1852.8,8.5 1855.3,5.6 1857.8,2.6 1860.3,-0.3 1862.8,-3.2 1865.3,-6.1" fill="none" stroke="#ff0000" stroke-width="5.2" stroke-linejoin="round"/>
<polygon points="160,796 165,795 170,800 178,803 182,809 172,813 171,818 180,822 186,825 190,830 196,834 202,838 215,836 228,838 240,843 238,850 228,858 215,866 205,880 196,894 186,907 178.6,919 172.7,931 170.4,943 168.6,960 166.2,978 160,978" fill="#999999"/>
<g fill="#999999"><circle cx="245.7" cy="681.6" r="4.9"/><circle cx="164" cy="702.9" r="4.9"/><circle cx="252.8" cy="725.2" r="4.9"/><circle cx="185.2" cy="735" r="4.9"/><circle cx="253.4" cy="742.1" r="4.9"/><circle cx="265.9" cy="737.8" r="4.9"/><circle cx="179.8" cy="756.3" r="4.9"/><circle cx="185.8" cy="757.9" r="4.9"/><circle cx="225" cy="759" r="4.9"/><circle cx="245.7" cy="760.1" r="4.9"/><circle cx="250.6" cy="763.9" r="4.9"/><circle cx="182.5" cy="775.9" r="4.9"/><circle cx="196.1" cy="772.6" r="4.9"/><circle cx="202.7" cy="772.6" r="4.9"/><circle cx="196.1" cy="784.6" r="4.9"/><circle cx="244.1" cy="778.6" r="4.9"/><circle cx="261" cy="787.3" r="4.9"/><circle cx="164.5" cy="787.9" r="4.9"/><circle cx="164.5" cy="798.8" r="4.9"/><circle cx="396.8" cy="700.2" r="4.9"/><circle cx="311.8" cy="721.3" r="4.9"/><circle cx="381.3" cy="720.8" r="4.9"/><circle cx="452.5" cy="727.5" r="4.9"/><circle cx="406" cy="735.8" r="4.9"/><circle cx="434.2" cy="750.3" r="4.9"/><circle cx="397.6" cy="752.8" r="4.9"/><circle cx="407.4" cy="760.1" r="4.9"/><circle cx="376" cy="759.5" r="4.9"/><circle cx="428.8" cy="763.4" r="4.9"/><circle cx="473.9" cy="741.6" r="4.9"/><circle cx="468" cy="745.2" r="4.9"/><circle cx="466.6" cy="753.2" r="4.9"/><circle cx="477.5" cy="758.3" r="4.9"/><circle cx="321.3" cy="773.6" r="4.9"/><circle cx="338" cy="782.3" r="4.9"/><circle cx="351" cy="775.8" r="4.9"/><circle cx="351" cy="780.1" r="4.9"/><circle cx="393.2" cy="770.7" r="4.9"/><circle cx="391.7" cy="775.8" r="4.9"/><circle cx="410.6" cy="774.3" r="4.9"/><circle cx="431.7" cy="772.8" r="4.9"/><circle cx="406.3" cy="788.8" r="4.9"/><circle cx="371.4" cy="788.8" r="4.9"/><circle cx="360.5" cy="799.7" r="4.9"/><circle cx="471.7" cy="800.5" r="4.9"/><circle cx="308.9" cy="783" r="4.9"/><circle cx="306" cy="790.3" r="4.9"/><circle cx="301.6" cy="794.7" r="4.9"/><circle cx="313.3" cy="804.8" r="4.9"/><circle cx="303.8" cy="813.5" r="4.9"/><circle cx="322" cy="813.5" r="4.9"/><circle cx="292.9" cy="813.5" r="4.9"/><circle cx="294.4" cy="822.3" r="4.9"/><circle cx="304.5" cy="823.7" r="4.9"/><circle cx="640.1" cy="727.5" r="4.9"/><circle cx="494.7" cy="744.5" r="4.9"/><circle cx="500.5" cy="750.3" r="4.9"/><circle cx="480.2" cy="758.3" r="4.9"/><circle cx="536.1" cy="747.4" r="4.9"/><circle cx="534.7" cy="762.7" r="4.9"/><circle cx="563.8" cy="752.5" r="4.9"/><circle cx="554.3" cy="764.9" r="4.9"/><circle cx="494" cy="777.2" r="4.9"/><circle cx="505.6" cy="775" r="4.9"/><circle cx="499.1" cy="791" r="4.9"/><circle cx="552.8" cy="780.1" r="4.9"/><circle cx="579.7" cy="777.2" r="4.9"/><circle cx="594.3" cy="772.8" r="4.9"/><circle cx="613.9" cy="769.2" r="4.9"/><circle cx="627.3" cy="761.5" r="4.9"/><circle cx="260.4" cy="790" r="4.9"/><circle cx="206.5" cy="808.5" r="4.9"/><circle cx="200" cy="816" r="4.9"/><circle cx="251" cy="809.5" r="4.9"/><circle cx="212.5" cy="828.5" r="4.9"/><circle cx="248" cy="847.4" r="4.9"/><circle cx="261.4" cy="851" r="4.9"/><circle cx="238" cy="853" r="4.9"/><circle cx="228" cy="861.4" r="4.9"/><circle cx="196" cy="894.4" r="4.9"/><circle cx="295.9" cy="796" r="4.9"/><circle cx="282.9" cy="819" r="4.9"/><circle cx="292.9" cy="815" r="4.9"/><circle cx="294.9" cy="823" r="4.9"/><circle cx="270" cy="835" r="4.9"/><circle cx="280" cy="828" r="4.9"/><circle cx="161.6" cy="799.6" r="4.9"/><circle cx="166.4" cy="798.8" r="4.9"/><circle cx="171.2" cy="803.8" r="4.9"/><circle cx="178.8" cy="806.9" r="4.9"/><circle cx="182.6" cy="813" r="4.9"/><circle cx="178" cy="814.9" r="4.9"/><circle cx="173.4" cy="816.8" r="4.9"/><circle cx="172.6" cy="821.7" r="4.9"/><circle cx="180.9" cy="825.9" r="4.9"/><circle cx="186.4" cy="829" r="4.9"/><circle cx="190" cy="834" r="4.9"/><circle cx="195.1" cy="837.9" r="4.9"/><circle cx="200.1" cy="841.5" r="4.9"/><circle cx="206.1" cy="840.2" r="4.9"/><circle cx="212.2" cy="838.8" r="4.9"/><circle cx="218.3" cy="839.4" r="4.9"/><circle cx="224.6" cy="840.1" r="4.9"/><circle cx="230.4" cy="842.2" r="4.9"/><circle cx="236.2" cy="844.4" r="4.9"/><circle cx="234.1" cy="850.9" r="4.9"/><circle cx="229.1" cy="854.7" r="4.9"/><circle cx="224" cy="858.4" r="4.9"/><circle cx="219.7" cy="860.8" r="4.9"/><circle cx="215.3" cy="863.1" r="4.9"/><circle cx="211.1" cy="865.3" r="4.9"/><circle cx="208" cy="869.2" r="4.9"/><circle cx="205.1" cy="873" r="4.9"/><circle cx="202.4" cy="876.9" r="4.9"/><circle cx="200.1" cy="881.1" r="4.9"/><circle cx="197.7" cy="885.5" r="4.9"/><circle cx="195.2" cy="890.1" r="4.9"/><circle cx="192.3" cy="894.3" r="4.9"/><circle cx="189.4" cy="898.7" r="4.9"/><circle cx="186.3" cy="903" r="4.9"/><circle cx="182.9" cy="909" r="4.9"/><circle cx="179.4" cy="915.1" r="4.9"/><circle cx="176.5" cy="921.1" r="4.9"/><circle cx="173.6" cy="927.1" r="4.9"/><circle cx="172.5" cy="933.1" r="4.9"/><circle cx="171.3" cy="939.1" r="4.9"/><circle cx="170.7" cy="944.8" r="4.9"/><circle cx="170.1" cy="950.4" r="4.9"/><circle cx="169.4" cy="956.1" r="4.9"/><circle cx="168.6" cy="962.1" r="4.9"/><circle cx="167.8" cy="968.1" r="4.9"/><circle cx="167" cy="974.1" r="4.9"/><circle cx="161" cy="974.1" r="4.9"/><circle cx="161" cy="969.1" r="4.9"/><circle cx="161.1" cy="964" r="4.9"/><circle cx="161.1" cy="959" r="4.9"/><circle cx="161.2" cy="954" r="4.9"/><circle cx="161.2" cy="948.9" r="4.9"/><circle cx="161.3" cy="943.9" r="4.9"/><circle cx="161.4" cy="938.9" r="4.9"/><circle cx="161.5" cy="933.8" r="4.9"/><circle cx="161.5" cy="928.8" r="4.9"/><circle cx="161.6" cy="923.8" r="4.9"/><circle cx="161.8" cy="918.8" r="4.9"/><circle cx="161.9" cy="913.8" r="4.9"/><circle cx="162" cy="908.8" r="4.9"/><circle cx="162.2" cy="903.9" r="4.9"/><circle cx="162.4" cy="898.9" r="4.9"/><circle cx="162.6" cy="894" r="4.9"/><circle cx="162.8" cy="889.2" r="4.9"/><circle cx="163" cy="884.4" r="4.9"/><circle cx="163.3" cy="879.7" r="4.9"/><circle cx="163.6" cy="875.1" r="4.9"/><circle cx="163.8" cy="870.5" r="4.9"/><circle cx="163.9" cy="866.1" r="4.9"/><circle cx="164" cy="861.7" r="4.9"/><circle cx="163.9" cy="857.3" r="4.9"/><circle cx="163.8" cy="852.9" r="4.9"/><circle cx="163.6" cy="848.4" r="4.9"/><circle cx="163.3" cy="843.7" r="4.9"/><circle cx="163" cy="839" r="4.9"/><circle cx="162.8" cy="834.2" r="4.9"/><circle cx="162.6" cy="829.4" r="4.9"/><circle cx="162.4" cy="824.5" r="4.9"/><circle cx="162.2" cy="819.6" r="4.9"/><circle cx="162" cy="814.6" r="4.9"/><circle cx="161.9" cy="809.6" r="4.9"/><circle cx="161.8" cy="804.6" r="4.9"/></g>
<polyline clip-path="url(#clipd)" points="163,959.7 163.2,951 163.4,944.9 163.5,940.1 163.7,936.2 163.9,932.9 164,930 164.2,927.5 164.4,925.2 164.5,923.2 164.7,921.3 164.9,919.6 165,918 165.2,916.5 165.4,915.2 165.5,913.9 165.7,912.6 165.9,911.5 166,910.4 166.9,905.6 167.7,901.7 168.5,898.4 169.3,895.5 170.2,893 171,890.7 171.8,888.7 172.7,886.8 173.5,885.1 174.3,883.5 175.2,882.1 176,880.7 176.8,879.4 177.7,878.2 178.5,877 179.3,875.9 180.2,874.9 181,873.9 181.8,872.9 182.6,872 183.5,871.1 184.3,870.3 185.1,869.5 186,868.7 186.8,867.9 187.6,867.2 188.5,866.5 189.3,865.8 190.1,865.2 191,864.5 191.8,863.9 192.6,863.3 193.5,862.7 194.3,862.1 195.1,861.6 195.9,861 196.8,860.5 197.6,860 198.4,859.5 199.3,859 200.1,858.5 200.9,858.1 201.8,857.6 202.6,857.1 203.4,856.7 204.3,856.3 205.1,855.8 205.9,855.4 206.8,855 207.6,854.6 208.4,854.2 209.2,853.8 210.1,853.5 210.9,853.1 211.7,852.7 212.6,852.4 213.4,852 214.2,851.7 215.1,851.3 215.9,851 219.2,849.7 222.5,848.5 225.9,847.3 229.2,846.2 232.5,845.1 235.8,844.2 239.2,843.2 242.5,842.3 245.8,841.4 249.1,840.6 252.5,839.8 255.8,839 259.1,838.2 262.4,837.5 265.8,836.8 269.1,836.1 272.4,835.5 275.7,834.8 279.1,834.2 282.4,833.6 285.7,833 289,832.4 292.4,831.9 295.7,831.3 299,830.8 302.3,830.3 305.7,829.8 309,829.3 312.3,828.8 315.6,828.3 319,827.9 322.3,827.4 325.6,827 328.9,826.6 332.3,826.1 335.6,825.7 338.9,825.3 342.2,824.9 345.6,824.5 348.9,824.1 352.2,823.8 355.5,823.4 358.9,823 362.2,822.7 365.5,822.3 368.8,822 372.2,821.6 375.5,821.3 378.8,820.9 382.1,820.6 385.5,820.3 388.8,820 392.1,819.7 395.4,819.4 398.8,819 402.1,818.7 405.4,818.5 408.7,818.2 412,817.9 415.4,817.6 418.7,817.3 422,817 425.3,816.8 428.7,816.5 432,816.2 435.3,816 438.6,815.7 442,815.4 445.3,815.2 448.6,814.9 451.9,814.7 455.3,814.4 458.6,814.2 461.9,814 465.2,813.7 468.6,813.5 471.9,813.3 475.2,813 478.5,812.8 481.9,812.6 485.2,812.4 488.5,812.1 491.8,811.9 495.2,811.7 498.5,811.5 501.8,811.3 505.1,811.1 508.5,810.9 511.8,810.7 515.1,810.5 518.4,810.3 521.8,810.1 525.1,809.9 528.4,809.7 531.7,809.5 535.1,809.3 538.4,809.1 541.7,808.9 545,808.7 548.4,808.5 551.7,808.3 555,808.2 558.3,808 561.7,807.8 565,807.6 568.3,807.4 571.6,807.3 575,807.1 578.3,806.9 581.6,806.8 584.9,806.6 588.3,806.4 591.6,806.3 594.9,806.1 598.2,805.9 601.6,805.8 604.9,805.6 608.2,805.4 611.5,805.3 614.9,805.1 618.2,805 621.5,804.8 624.8,804.7 628.2,804.5 631.5,804.3 634.8,804.2 638.1,804 639.5,804" fill="none" stroke="#ff00ff" stroke-width="5.2" stroke-linejoin="round"/>
<polyline clip-path="url(#clipd)" points="163,931.8 163.2,930.9 163.4,929.9 163.5,929 163.7,928.1 163.9,927.2 164,926.4 164.2,925.5 164.4,924.6 164.5,923.8 164.7,922.9 164.9,922.1 165,921.2 165.2,920.4 165.4,919.6 165.5,918.7 165.7,917.9 165.9,917.1 166,916.3 166.9,912.5 167.7,908.8 168.5,905.3 169.3,901.9 170.2,898.7 171,895.6 171.8,892.6 172.7,889.8 173.5,887.1 174.3,884.5 175.2,882.1 176,879.7 176.8,877.5 177.7,875.3 178.5,873.2 179.3,871.3 180.2,869.4 181,867.6 181.8,865.9 182.6,864.2 183.5,862.7 184.3,861.2 185.1,859.7 186,858.3 186.8,857 187.6,855.8 188.5,854.6 189.3,853.4 190.1,852.3 191,851.3 191.8,850.3 192.6,849.3 193.5,848.4 194.3,847.5 195.1,846.7 195.9,845.9 196.8,845.1 197.6,844.4 198.4,843.7 199.3,843 200.1,842.4 200.9,841.8 201.8,841.2 202.6,840.6 203.4,840.1 204.3,839.6 205.1,839.1 205.9,838.7 206.8,838.2 207.6,837.8 208.4,837.4 209.2,837 210.1,836.6 210.9,836.3 211.7,835.9 212.6,835.6 213.4,835.3 214.2,835 215.1,834.7 215.9,834.4 219.2,833.5 222.5,832.6 225.9,832 229.2,831.4 232.5,830.9 235.8,830.5 239.2,830.2 242.5,829.9 245.8,829.7 249.1,829.5 252.5,829.3 255.8,829.2 259.1,829.1 262.4,829 265.8,828.9 269.1,828.9 272.4,828.8 275.7,828.8 279.1,828.7 282.4,828.7 285.7,828.7 289,828.6 292.4,828.6 295.7,828.6 299,828.6 302.3,828.6 305.7,828.6 309,828.6 312.3,828.6 315.6,828.6 319,828.5 322.3,828.5 325.6,828.5 328.9,828.5 332.3,828.5 335.6,828.5 338.9,828.5 342.2,828.5 345.6,828.5 348.9,828.5 352.2,828.5 355.5,828.5 358.9,828.5 362.2,828.5 365.5,828.5 368.8,828.5 372.2,828.5 375.5,828.5 378.8,828.5 382.1,828.5 385.5,828.5 388.8,828.5 392.1,828.5 395.4,828.5 398.8,828.5 402.1,828.5 405.4,828.5 408.7,828.5 412,828.5 415.4,828.5 418.7,828.5 422,828.5 425.3,828.5 428.7,828.5 432,828.5 435.3,828.5 438.6,828.5 442,828.5 445.3,828.5 448.6,828.5 451.9,828.5 455.3,828.5 458.6,828.5 461.9,828.5 465.2,828.5 468.6,828.5 471.9,828.5 475.2,828.5 478.5,828.5 481.9,828.5 485.2,828.5 488.5,828.5 491.8,828.5 495.2,828.5 498.5,828.5 501.8,828.5 505.1,828.5 508.5,828.5 511.8,828.5 515.1,828.5 518.4,828.5 521.8,828.5 525.1,828.5 528.4,828.5 531.7,828.5 535.1,828.5 538.4,828.5 541.7,828.5 545,828.5 548.4,828.5 551.7,828.5 555,828.5 558.3,828.5 561.7,828.5 565,828.5 568.3,828.5 571.6,828.5 575,828.5 578.3,828.5 581.6,828.5 584.9,828.5 588.3,828.5 591.6,828.5 594.9,828.5 598.2,828.5 601.6,828.5 604.9,828.5 608.2,828.5 611.5,828.5 614.9,828.5 618.2,828.5 621.5,828.5 624.8,828.5 628.2,828.5 631.5,828.5 634.8,828.5 638.1,828.5 639.5,828.5" fill="none" stroke="#00cc00" stroke-width="5.2" stroke-linejoin="round"/>
<polyline clip-path="url(#clipd)" points="163,945.2 163.2,940.6 163.4,937.1 163.5,934.2 163.7,931.7 163.9,929.6 164,927.6 164.2,925.8 164.4,924.2 164.5,922.7 164.7,921.3 164.9,920 165,918.8 165.2,917.6 165.4,916.5 165.5,915.4 165.7,914.4 165.9,913.4 166,912.5 166.9,908.3 167.7,904.7 168.5,901.5 169.3,898.7 170.2,896.1 171,893.8 171.8,891.6 172.7,889.5 173.5,887.6 174.3,885.8 175.2,884.1 176,882.5 176.8,880.9 177.7,879.5 178.5,878.1 179.3,876.7 180.2,875.4 181,874.1 181.8,872.9 182.6,871.7 183.5,870.6 184.3,869.5 185.1,868.4 186,867.4 186.8,866.3 187.6,865.4 188.5,864.4 189.3,863.5 190.1,862.5 191,861.6 191.8,860.8 192.6,859.9 193.5,859.1 194.3,858.2 195.1,857.4 195.9,856.6 196.8,855.9 197.6,855.1 198.4,854.4 199.3,853.6 200.1,852.9 200.9,852.2 201.8,851.5 202.6,850.8 203.4,850.1 204.3,849.5 205.1,848.8 205.9,848.2 206.8,847.5 207.6,846.9 208.4,846.3 209.2,845.7 210.1,845.1 210.9,844.5 211.7,843.9 212.6,843.3 213.4,842.8 214.2,842.2 215.1,841.6 215.9,841.1 219.2,839 222.5,836.9 225.9,835 229.2,833.1 232.5,831.3 235.8,829.5 239.2,827.9 242.5,826.2 245.8,824.7 249.1,823.1 252.5,821.6 255.8,820.2 259.1,818.8 262.4,817.4 265.8,816.1 269.1,814.8 272.4,813.5 275.7,812.3 279.1,811.1 282.4,809.9 285.7,808.7 289,807.6 292.4,806.5 295.7,805.4 299,804.3 302.3,803.3 305.7,802.3 309,801.2 312.3,800.2 315.6,799.3 319,798.3 322.3,797.4 325.6,796.4 328.9,795.5 332.3,794.6 335.6,793.7 338.9,792.8 342.2,792 345.6,791.1 348.9,790.3 352.2,789.4 355.5,788.6 358.9,787.8 362.2,787 365.5,786.2 368.8,785.5 372.2,784.7 375.5,783.9 378.8,783.2 382.1,782.4 385.5,781.7 388.8,781 392.1,780.3 395.4,779.6 398.8,778.9 402.1,778.2 405.4,777.5 408.7,776.8 412,776.1 415.4,775.5 418.7,774.8 422,774.2 425.3,773.5 428.7,772.9 432,772.3 435.3,771.6 438.6,771 442,770.4 445.3,769.8 448.6,769.2 451.9,768.6 455.3,768 458.6,767.4 461.9,766.8 465.2,766.2 468.6,765.7 471.9,765.1 475.2,764.5 478.5,764 481.9,763.4 485.2,762.9 488.5,762.3 491.8,761.8 495.2,761.2 498.5,760.7 501.8,760.2 505.1,759.7 508.5,759.1 511.8,758.6 515.1,758.1 518.4,757.6 521.8,757.1 525.1,756.6 528.4,756.1 531.7,755.6 535.1,755.1 538.4,754.6 541.7,754.1 545,753.6 548.4,753.2 551.7,752.7 555,752.2 558.3,751.7 561.7,751.3 565,750.8 568.3,750.4 571.6,749.9 575,749.4 578.3,749 581.6,748.5 584.9,748.1 588.3,747.7 591.6,747.2 594.9,746.8 598.2,746.3 601.6,745.9 604.9,745.5 608.2,745 611.5,744.6 614.9,744.2 618.2,743.8 621.5,743.4 624.8,742.9 628.2,742.5 631.5,742.1 634.8,741.7 638.1,741.3 639.5,741.1" fill="none" stroke="#ff0000" stroke-width="5.2" stroke-linejoin="round"/>
<polyline clip-path="url(#clipd)" points="162.7,914.7 165.1,912.5 167.5,910.2 169.9,907.9 172.2,905.6 174.6,903.3 177,901 179.4,898.7 181.8,896.4 184.2,894.1 186.5,891.8 188.9,889.6 191.3,887.3 193.7,885 196.1,882.7 198.5,880.4 200.8,878.1 203.2,875.8 205.6,873.5 208,871.2 210.4,868.9 212.8,866.7 215.1,864.4 217.5,862.1 219.9,859.8 222.3,857.5 224.7,855.2 227.1,852.9 229.4,850.6 231.8,848.3 234.2,846.1 236.6,843.8 239,841.5 241.4,839.2 243.7,836.9 246.1,834.6 248.5,832.3 250.9,830 253.3,827.7 255.7,825.4 258.1,823.2 260.4,820.9 262.8,818.6 265.2,816.3 267.6,814 270,811.7 272.4,809.4 274.7,807.1 277.1,804.8 279.5,802.6 281.9,800.3 284.3,798 286.7,795.7 289,793.4 291.4,791.1 293.8,788.8 296.2,786.5 298.6,784.2 301,781.9 303.3,779.7 305.7,777.4 308.1,775.1 310.5,772.8 312.9,770.5 315.3,768.2 317.6,765.9 320,763.6 322.4,761.3 324.8,759.1 327.2,756.8 329.6,754.5 331.9,752.2 334.3,749.9 336.7,747.6 339.1,745.3 341.5,743 343.9,740.7 346.3,738.4 348.6,736.2 351,733.9 353.4,731.6 355.8,729.3 358.2,727 360.6,724.7 362.9,722.4 365.3,720.1 367.7,717.8 370.1,715.6 372.5,713.3 374.9,711 377.2,708.7 379.6,706.4 382,704.1 384.4,701.8 386.8,699.5 389.2,697.2 391.5,694.9 393.9,692.7 396.3,690.4 398.7,688.1 401.1,685.8 403.5,683.5 405.8,681.2 408.2,678.9 410.6,676.6 413,674.3 415.4,672 417.8,669.8 420.1,667.5 422.5,665.2 424.9,662.9 427.3,660.6 429.7,658.3 432.1,656 434.5,653.7 436.8,651.4 439.2,649.2 441.6,646.9 444,644.6 446.4,642.3 448.8,640 451.1,637.7 453.5,635.4 455.9,633.1 458.3,630.8 460.7,628.5 463.1,626.3 465.4,624 467.8,621.7 470.2,619.4 472.6,617.1 475,614.8 477.4,612.5 479.7,610.2 482.1,607.9 484.5,605.7 486.9,603.4 489.3,601.1 491.7,598.8 494,596.5 496.4,594.2 498.8,591.9 501.2,589.6 503.6,587.3 506,585 508.3,582.8 510.7,580.5 513.1,578.2 515.5,575.9 517.9,573.6 520.3,571.3 522.7,569 525,566.7 527.4,564.4 529.8,562.2 532.2,559.9 534.6,557.6 537,555.3 539.3,553 541.7,550.7 544.1,548.4 546.5,546.1 548.9,543.8 551.3,541.5 553.6,539.3 556,537 558.4,534.7 560.8,532.4 563.2,530.1 565.6,527.8 567.9,525.5 570.3,523.2 572.7,520.9 575.1,518.7 577.5,516.4 579.9,514.1 582.2,511.8 584.6,509.5 587,507.2 589.4,504.9 591.8,502.6 594.2,500.3 596.5,498 598.9,495.8 601.3,493.5 603.7,491.2 606.1,488.9 608.5,486.6 610.9,484.3 613.2,482 615.6,479.7 618,477.4 620.4,475.1 622.8,472.9 625.2,470.6 627.5,468.3 629.9,466 632.3,463.7 634.7,461.4 637.1,459.1 639.5,456.8" fill="none" stroke="#0000ff" stroke-width="5.2" stroke-linejoin="round"/>
<polygon points="762,845 766,844 788,838 810,836 831,834 848,834 859,833 875,834.5 888,836 901,843 913,845 918.5,850 930,836 939,842 934.5,850.5 927,856 913,859 910,868 902.5,878 891,881 884,887 869,894 852,893 843,902 836,911 824.5,923 810.6,932 808,944 797,953 778,962 762,976 762,982" fill="#999999"/>
<polygon points="763.5,800 775,800 785,801 795,803 797,812 794,822 790,830 780,838 763.5,843" fill="#999999"/>
<g fill="#999999"><circle cx="837.6" cy="623.2" r="4.9"/><circle cx="772.8" cy="642.2" r="4.9"/><circle cx="776.6" cy="663.2" r="4.9"/><circle cx="796.3" cy="686.1" r="4.9"/><circle cx="768.3" cy="688" r="4.9"/><circle cx="770.9" cy="696.3" r="4.9"/><circle cx="776.6" cy="707.1" r="4.9"/><circle cx="769" cy="707.7" r="4.9"/><circle cx="762.6" cy="710.9" r="4.9"/><circle cx="814.1" cy="705.8" r="4.9"/><circle cx="831.3" cy="703.3" r="4.9"/><circle cx="847.8" cy="718.5" r="4.9"/><circle cx="869.4" cy="728.7" r="4.9"/><circle cx="798.2" cy="726.8" r="4.9"/><circle cx="823.6" cy="730" r="4.9"/><circle cx="830" cy="740.1" r="4.9"/><circle cx="803.3" cy="737.6" r="4.9"/><circle cx="772.8" cy="720.4" r="4.9"/><circle cx="780.4" cy="726.8" r="4.9"/><circle cx="784.2" cy="731.2" r="4.9"/><circle cx="770.3" cy="729.3" r="4.9"/><circle cx="770.3" cy="736.9" r="4.9"/><circle cx="766.4" cy="744.6" r="4.9"/><circle cx="779.2" cy="750.9" r="4.9"/><circle cx="772.8" cy="753.5" r="4.9"/><circle cx="809.7" cy="749" r="4.9"/><circle cx="816" cy="750.3" r="4.9"/><circle cx="799.5" cy="755.4" r="4.9"/><circle cx="840.8" cy="757.9" r="4.9"/><circle cx="878.9" cy="756.6" r="4.9"/><circle cx="762" cy="700" r="4.9"/><circle cx="762" cy="725" r="4.9"/><circle cx="842.2" cy="759.6" r="4.9"/><circle cx="878.5" cy="757.4" r="4.9"/><circle cx="861.1" cy="774.9" r="4.9"/><circle cx="869.8" cy="770.5" r="4.9"/><circle cx="845.8" cy="781.4" r="4.9"/><circle cx="897.4" cy="784.3" r="4.9"/><circle cx="879.2" cy="793.1" r="4.9"/><circle cx="906.9" cy="796.7" r="4.9"/><circle cx="914.1" cy="791.6" r="4.9"/><circle cx="873.4" cy="806.1" r="4.9"/><circle cx="888" cy="807.6" r="4.9"/><circle cx="848.7" cy="811.2" r="4.9"/><circle cx="858.9" cy="808.3" r="4.9"/><circle cx="954.8" cy="773.4" r="4.9"/><circle cx="996.3" cy="753.1" r="4.9"/><circle cx="999.9" cy="764.7" r="4.9"/><circle cx="908.3" cy="825.8" r="4.9"/><circle cx="909.8" cy="828.7" r="4.9"/><circle cx="927.2" cy="821.4" r="4.9"/><circle cx="925.8" cy="825.8" r="4.9"/><circle cx="957.7" cy="822.8" r="4.9"/><circle cx="956.3" cy="830.1" r="4.9"/><circle cx="963.5" cy="835.9" r="4.9"/><circle cx="965" cy="843.2" r="4.9"/><circle cx="947.6" cy="840.3" r="4.9"/><circle cx="981" cy="823.6" r="4.9"/><circle cx="991.2" cy="819.9" r="4.9"/><circle cx="992.6" cy="811.2" r="4.9"/><circle cx="986.1" cy="830.8" r="4.9"/><circle cx="931.6" cy="861.4" r="4.9"/><circle cx="915.6" cy="876.6" r="4.9"/><circle cx="901" cy="880.3" r="4.9"/><circle cx="890.9" cy="881.7" r="4.9"/><circle cx="883.6" cy="887.5" r="4.9"/><circle cx="863.3" cy="896.2" r="4.9"/><circle cx="850" cy="718.4" r="4.9"/><circle cx="1002.8" cy="765.1" r="4.9"/><circle cx="1058.3" cy="749.4" r="4.9"/><circle cx="1083.8" cy="746.2" r="4.9"/><circle cx="1191.3" cy="773.4" r="4.9"/><circle cx="1173.1" cy="795.9" r="4.9"/><circle cx="1058.3" cy="787.2" r="4.9"/><circle cx="1033.6" cy="798.8" r="4.9"/><circle cx="1027.8" cy="798.8" r="4.9"/><circle cx="1038" cy="798.1" r="4.9"/><circle cx="1015.4" cy="807.6" r="4.9"/><circle cx="1012.5" cy="812.6" r="4.9"/><circle cx="1019.8" cy="814.8" r="4.9"/><circle cx="993.6" cy="811.9" r="4.9"/><circle cx="991.5" cy="820.6" r="4.9"/><circle cx="1025.6" cy="824.3" r="4.9"/><circle cx="1017.6" cy="829.4" r="4.9"/><circle cx="1080.8" cy="811.2" r="4.9"/><circle cx="910" cy="830" r="4.9"/><circle cx="932.7" cy="835.4" r="4.9"/><circle cx="936.3" cy="843.6" r="4.9"/><circle cx="930" cy="848.2" r="4.9"/><circle cx="922.7" cy="850.9" r="4.9"/><circle cx="917.3" cy="855.4" r="4.9"/><circle cx="912.7" cy="845.4" r="4.9"/><circle cx="947.2" cy="840" r="4.9"/><circle cx="957.2" cy="832.7" r="4.9"/><circle cx="963.6" cy="836.4" r="4.9"/><circle cx="965.4" cy="843.6" r="4.9"/><circle cx="931.8" cy="860.9" r="4.9"/><circle cx="915.4" cy="876.3" r="4.9"/><circle cx="901.8" cy="880.4" r="4.9"/><circle cx="905.4" cy="868.1" r="4.9"/><circle cx="900" cy="857.2" r="4.9"/><circle cx="820" cy="815" r="4.9"/><circle cx="830" cy="805" r="4.9"/><circle cx="840" cy="820" r="4.9"/><circle cx="815" cy="825" r="4.9"/><circle cx="850" cy="822" r="4.9"/><circle cx="865" cy="822" r="4.9"/><circle cx="880" cy="820" r="4.9"/><circle cx="895" cy="815" r="4.9"/><circle cx="870" cy="830" r="4.9"/><circle cx="840" cy="800" r="4.9"/><circle cx="825" cy="800" r="4.9"/><circle cx="769.5" cy="695.8" r="4.9"/><circle cx="766" cy="710.4" r="4.9"/><circle cx="775.4" cy="707.5" r="4.9"/><circle cx="769.5" cy="719.1" r="4.9"/><circle cx="776.8" cy="722" r="4.9"/><circle cx="784.1" cy="730.7" r="4.9"/><circle cx="771" cy="732.2" r="4.9"/><circle cx="768.1" cy="739.5" r="4.9"/><circle cx="766" cy="745.3" r="4.9"/><circle cx="778.3" cy="751.1" r="4.9"/><circle cx="766.6" cy="759.8" r="4.9"/><circle cx="766" cy="768.5" r="4.9"/><circle cx="773.9" cy="765.6" r="4.9"/><circle cx="766" cy="778.7" r="4.9"/><circle cx="769.5" cy="783.1" r="4.9"/><circle cx="778.3" cy="783.1" r="4.9"/><circle cx="772.5" cy="791.8" r="4.9"/><circle cx="784.1" cy="788.9" r="4.9"/><circle cx="792.8" cy="790.4" r="4.9"/><circle cx="787" cy="772.9" r="4.9"/><circle cx="797.2" cy="768.5" r="4.9"/><circle cx="800.1" cy="756.9" r="4.9"/><circle cx="810.3" cy="765.6" r="4.9"/><circle cx="807.4" cy="749.6" r="4.9"/><circle cx="816.1" cy="749.6" r="4.9"/><circle cx="798.6" cy="777.3" r="4.9"/><circle cx="803" cy="788.9" r="4.9"/><circle cx="810.3" cy="788.9" r="4.9"/><circle cx="816.1" cy="780.2" r="4.9"/><circle cx="823.4" cy="778.7" r="4.9"/><circle cx="830.6" cy="781.6" r="4.9"/><circle cx="823.4" cy="787.5" r="4.9"/><circle cx="832.1" cy="764.2" r="4.9"/><circle cx="766" cy="803.5" r="4.9"/><circle cx="772.5" cy="803.5" r="4.9"/><circle cx="781.2" cy="804.9" r="4.9"/><circle cx="792.8" cy="803.5" r="4.9"/><circle cx="814.6" cy="705.3" r="4.9"/><circle cx="830.6" cy="703.1" r="4.9"/><circle cx="798.6" cy="726.4" r="4.9"/><circle cx="803" cy="738" r="4.9"/><circle cx="823.4" cy="730" r="4.9"/><circle cx="829.2" cy="740.2" r="4.9"/><circle cx="795.7" cy="690" r="4.9"/><circle cx="780" cy="715" r="4.9"/><circle cx="790" cy="780" r="4.9"/><circle cx="768" cy="752" r="4.9"/><circle cx="776" cy="758" r="4.9"/><circle cx="786" cy="762" r="4.9"/><circle cx="794" cy="757" r="4.9"/><circle cx="782" cy="770" r="4.9"/><circle cx="770" cy="774" r="4.9"/><circle cx="778" cy="778" r="4.9"/><circle cx="800" cy="782" r="4.9"/><circle cx="806" cy="774" r="4.9"/><circle cx="796" cy="796" r="4.9"/><circle cx="786" cy="796" r="4.9"/><circle cx="768" cy="790" r="4.9"/><circle cx="812" cy="796" r="4.9"/><circle cx="788" cy="745" r="4.9"/><circle cx="772" cy="740" r="4.9"/><circle cx="780" cy="740" r="4.9"/><circle cx="804" cy="762" r="4.9"/><circle cx="815" cy="770" r="4.9"/><circle cx="766" cy="726" r="4.9"/><circle cx="778" cy="700" r="4.9"/><circle cx="790" cy="722" r="4.9"/><circle cx="764" cy="700" r="4.9"/><circle cx="833.7" cy="917.6" r="4.9"/><circle cx="849" cy="919" r="4.9"/><circle cx="816" cy="933.6" r="4.9"/><circle cx="855.3" cy="905" r="4.9"/><circle cx="863.3" cy="896.5" r="4.9"/><circle cx="884" cy="887.7" r="4.9"/><circle cx="890.4" cy="882" r="4.9"/><circle cx="764.4" cy="845.8" r="4.9"/><circle cx="768.3" cy="844.9" r="4.9"/><circle cx="773.8" cy="843.5" r="4.9"/><circle cx="779.3" cy="842.1" r="4.9"/><circle cx="784.7" cy="840.7" r="4.9"/><circle cx="790.1" cy="839.3" r="4.9"/><circle cx="795.6" cy="838.9" r="4.9"/><circle cx="801" cy="838.5" r="4.9"/><circle cx="806.4" cy="838.1" r="4.9"/><circle cx="811.8" cy="837.7" r="4.9"/><circle cx="816.9" cy="837.3" r="4.9"/><circle cx="822" cy="837" r="4.9"/><circle cx="827.1" cy="836.6" r="4.9"/><circle cx="832.2" cy="836.2" r="4.9"/><circle cx="837.6" cy="836.3" r="4.9"/><circle cx="843" cy="836.4" r="4.9"/><circle cx="848.3" cy="836.5" r="4.9"/><circle cx="853.5" cy="836" r="4.9"/><circle cx="858.7" cy="835.5" r="4.9"/><circle cx="863.8" cy="835.9" r="4.9"/><circle cx="868.8" cy="836.4" r="4.9"/><circle cx="873.9" cy="836.8" r="4.9"/><circle cx="880.2" cy="837.4" r="4.9"/><circle cx="886.4" cy="837.9" r="4.9"/><circle cx="892.7" cy="841.2" r="4.9"/><circle cx="899" cy="844.5" r="4.9"/><circle cx="904.9" cy="845.4" r="4.9"/><circle cx="910.8" cy="846.2" r="4.9"/><circle cx="916.2" cy="851" r="4.9"/><circle cx="920.1" cy="846.4" r="4.9"/><circle cx="923.9" cy="841.8" r="4.9"/><circle cx="927.8" cy="837.2" r="4.9"/><circle cx="932.3" cy="840.1" r="4.9"/><circle cx="936.7" cy="843" r="4.9"/><circle cx="932.1" cy="851.3" r="4.9"/><circle cx="924.6" cy="856.7" r="4.9"/><circle cx="917.6" cy="858.2" r="4.9"/><circle cx="910.6" cy="859.8" r="4.9"/><circle cx="907.5" cy="868.4" r="4.9"/><circle cx="903.8" cy="873.2" r="4.9"/><circle cx="900" cy="878" r="4.9"/><circle cx="894.3" cy="879.4" r="4.9"/><circle cx="888.5" cy="880.8" r="4.9"/><circle cx="881.6" cy="886.3" r="4.9"/><circle cx="876.7" cy="888.3" r="4.9"/><circle cx="871.9" cy="890.3" r="4.9"/><circle cx="867.3" cy="892.2" r="4.9"/><circle cx="862.1" cy="891.5" r="4.9"/><circle cx="857.1" cy="890.9" r="4.9"/><circle cx="852.4" cy="890.5" r="4.9"/><circle cx="848.3" cy="895.1" r="4.9"/><circle cx="844.1" cy="899.7" r="4.9"/><circle cx="840.6" cy="904.3" r="4.9"/><circle cx="837.2" cy="908.8" r="4.9"/><circle cx="833.4" cy="912.9" r="4.9"/><circle cx="829.7" cy="916.9" r="4.9"/><circle cx="825.9" cy="920.9" r="4.9"/><circle cx="821.3" cy="924" r="4.9"/><circle cx="816.8" cy="927" r="4.9"/><circle cx="812.2" cy="930.1" r="4.9"/><circle cx="810.8" cy="936" r="4.9"/><circle cx="809.4" cy="942" r="4.9"/><circle cx="804" cy="946.5" r="4.9"/><circle cx="798.5" cy="951" r="4.9"/><circle cx="793.8" cy="953.3" r="4.9"/><circle cx="789.1" cy="955.6" r="4.9"/><circle cx="784.4" cy="957.9" r="4.9"/><circle cx="779.7" cy="960.1" r="4.9"/><circle cx="775.7" cy="963.7" r="4.9"/><circle cx="771.7" cy="967.2" r="4.9"/><circle cx="767.7" cy="970.7" r="4.9"/><circle cx="763.7" cy="974.2" r="4.9"/><circle cx="763.7" cy="980.1" r="4.9"/><circle cx="763.7" cy="975.1" r="4.9"/><circle cx="763.8" cy="970.1" r="4.9"/><circle cx="763.8" cy="965" r="4.9"/><circle cx="763.9" cy="960" r="4.9"/><circle cx="763.9" cy="955" r="4.9"/><circle cx="764" cy="950" r="4.9"/><circle cx="764" cy="945" r="4.9"/><circle cx="764.1" cy="940" r="4.9"/><circle cx="764.1" cy="935" r="4.9"/><circle cx="764.2" cy="930" r="4.9"/><circle cx="764.2" cy="925" r="4.9"/><circle cx="764.3" cy="920.1" r="4.9"/><circle cx="764.3" cy="915.1" r="4.9"/><circle cx="764.4" cy="910.1" r="4.9"/><circle cx="764.4" cy="905.2" r="4.9"/><circle cx="764.4" cy="900.2" r="4.9"/><circle cx="764.5" cy="895.3" r="4.9"/><circle cx="764.5" cy="890.3" r="4.9"/><circle cx="764.5" cy="885.4" r="4.9"/><circle cx="764.5" cy="880.5" r="4.9"/><circle cx="764.5" cy="875.5" r="4.9"/><circle cx="764.5" cy="870.6" r="4.9"/><circle cx="764.5" cy="865.6" r="4.9"/><circle cx="764.5" cy="860.7" r="4.9"/><circle cx="764.4" cy="855.8" r="4.9"/><circle cx="764.4" cy="850.8" r="4.9"/><circle cx="765.4" cy="801.6" r="4.9"/><circle cx="770.8" cy="801.9" r="4.9"/><circle cx="776" cy="802.3" r="4.9"/><circle cx="780.4" cy="803" r="4.9"/><circle cx="784.6" cy="803.5" r="4.9"/><circle cx="788.9" cy="804.2" r="4.9"/><circle cx="793.3" cy="804.8" r="4.9"/><circle cx="794.6" cy="812.8" r="4.9"/><circle cx="793" cy="816.9" r="4.9"/><circle cx="791.7" cy="820.9" r="4.9"/><circle cx="788.8" cy="827.8" r="4.9"/><circle cx="784.7" cy="831.5" r="4.9"/><circle cx="780.3" cy="835.5" r="4.9"/><circle cx="775.3" cy="837.3" r="4.9"/><circle cx="770.2" cy="839.1" r="4.9"/><circle cx="765" cy="841" r="4.9"/><circle cx="765.2" cy="835.8" r="4.9"/><circle cx="765.4" cy="830.7" r="4.9"/><circle cx="765.7" cy="825.7" r="4.9"/><circle cx="765.9" cy="820.9" r="4.9"/><circle cx="766" cy="816.2" r="4.9"/><circle cx="765.9" cy="811.5" r="4.9"/><circle cx="765.7" cy="806.6" r="4.9"/></g>
<polyline clip-path="url(#clipe)" points="761.4,930.3 762.2,918.6 763.1,909.5 763.9,902.1 764.7,895.8 765.5,890.4 766.4,885.6 767.2,881.3 768,877.4 768.9,873.8 769.7,870.6 770.5,867.6 771.4,864.8 772.2,862.1 773,859.7 773.9,857.3 774.7,855.1 775.5,853 776.4,851 777.2,849.1 778,847.3 778.8,845.6 779.7,843.9 780.5,842.3 781.3,840.8 782.2,839.3 783,837.9 783.8,836.5 784.7,835.2 785.5,833.9 786.3,832.6 787.2,831.4 788,830.2 788.8,829.1 789.7,828 790.5,826.9 791.3,825.8 792.1,824.8 795.5,820.9 798.8,817.4 802.1,814.1 805.4,811.1 808.8,808.3 812.1,805.6 815.4,803.2 818.7,800.8 822.1,798.6 825.4,796.5 828.7,794.6 832,792.7 835.4,790.8 838.7,789.1 842,787.4 845.3,785.8 848.7,784.3 852,782.8 855.3,781.4 858.6,780 862,778.7 865.3,777.4 868.6,776.1 871.9,774.9 875.3,773.7 878.6,772.6 881.9,771.5 885.2,770.4 888.6,769.3 891.9,768.3 895.2,767.3 898.5,766.3 901.9,765.3 905.2,764.4 908.5,763.5 911.8,762.6 915.2,761.7 918.5,760.9 921.8,760 925.1,759.2 928.5,758.4 931.8,757.6 935.1,756.8 938.4,756.1 941.8,755.3 945.1,754.6 948.4,753.9 951.7,753.2 955.1,752.5 958.4,751.8 961.7,751.1 965,750.4 968.4,749.8 971.7,749.1 975,748.5 978.3,747.9 981.7,747.3 985,746.7 988.3,746.1 991.6,745.5 995,744.9 998.3,744.3 1001.6,743.8 1004.9,743.2 1008.2,742.7 1011.6,742.1 1014.9,741.6 1018.2,741.1 1021.5,740.6 1024.9,740.1 1028.2,739.5 1031.5,739 1034.8,738.6 1038.2,738.1 1041.5,737.6 1044.8,737.1 1048.1,736.6 1051.5,736.2 1054.8,735.7 1058.1,735.3 1061.4,734.8 1064.8,734.4 1068.1,733.9 1071.4,733.5 1074.7,733 1078.1,732.6 1081.4,732.2 1084.7,731.8 1088,731.4 1091.4,731 1094.7,730.6 1098,730.2 1101.3,729.8 1104.7,729.4 1108,729 1111.3,728.6 1114.6,728.2 1118,727.8 1121.3,727.4 1124.6,727.1 1127.9,726.7 1131.3,726.3 1134.6,726 1137.9,725.6 1141.2,725.3 1144.6,724.9 1147.9,724.6 1151.2,724.2 1154.5,723.9 1157.9,723.5 1161.2,723.2 1164.5,722.9 1167.8,722.5 1171.2,722.2 1174.5,721.9 1177.8,721.5 1181.1,721.2 1184.5,720.9 1187.8,720.6 1190.4,720.3" fill="none" stroke="#ff00ff" stroke-width="5.2" stroke-linejoin="round"/>
<polyline clip-path="url(#clipe)" points="761.4,881 762.2,880.1 763.1,879.2 763.9,878.3 764.7,877.4 765.5,876.5 766.4,875.6 767.2,874.7 768,873.8 768.9,872.9 769.7,872 770.5,871.1 771.4,870.3 772.2,869.4 773,868.5 773.9,867.6 774.7,866.8 775.5,865.9 776.4,865.1 777.2,864.2 778,863.4 778.8,862.5 779.7,861.7 780.5,860.8 781.3,860 782.2,859.2 783,858.4 783.8,857.5 784.7,856.7 785.5,855.9 786.3,855.1 787.2,854.3 788,853.5 788.8,852.7 789.7,851.9 790.5,851.1 791.3,850.3 792.1,849.5 795.5,846.4 798.8,843.3 802.1,840.3 805.4,837.3 808.8,834.4 812.1,831.5 815.4,828.7 818.7,825.9 822.1,823.2 825.4,820.5 828.7,817.9 832,815.3 835.4,812.7 838.7,810.2 842,807.8 845.3,805.4 848.7,803 852,800.6 855.3,798.3 858.6,796.1 862,793.9 865.3,791.7 868.6,789.5 871.9,787.4 875.3,785.3 878.6,783.3 881.9,781.3 885.2,779.3 888.6,777.4 891.9,775.5 895.2,773.6 898.5,771.7 901.9,769.9 905.2,768.1 908.5,766.4 911.8,764.7 915.2,763 918.5,761.3 921.8,759.7 925.1,758.1 928.5,756.5 931.8,754.9 935.1,753.4 938.4,751.9 941.8,750.4 945.1,749 948.4,747.5 951.7,746.1 955.1,744.7 958.4,743.4 961.7,742.1 965,740.7 968.4,739.5 971.7,738.2 975,736.9 978.3,735.7 981.7,734.5 985,733.3 988.3,732.2 991.6,731 995,729.9 998.3,728.8 1001.6,727.7 1004.9,726.6 1008.2,725.6 1011.6,724.5 1014.9,723.5 1018.2,722.5 1021.5,721.5 1024.9,720.6 1028.2,719.6 1031.5,718.7 1034.8,717.8 1038.2,716.9 1041.5,716 1044.8,715.1 1048.1,714.2 1051.5,713.4 1054.8,712.6 1058.1,711.7 1061.4,710.9 1064.8,710.2 1068.1,709.4 1071.4,708.6 1074.7,707.9 1078.1,707.1 1081.4,706.4 1084.7,705.7 1088,705 1091.4,704.3 1094.7,703.6 1098,703 1101.3,702.3 1104.7,701.7 1108,701 1111.3,700.4 1114.6,699.8 1118,699.2 1121.3,698.6 1124.6,698 1127.9,697.5 1131.3,696.9 1134.6,696.4 1137.9,695.8 1141.2,695.3 1144.6,694.8 1147.9,694.2 1151.2,693.7 1154.5,693.2 1157.9,692.7 1161.2,692.3 1164.5,691.8 1167.8,691.3 1171.2,690.9 1174.5,690.4 1177.8,690 1181.1,689.5 1184.5,689.1 1187.8,688.7 1190.4,688.4" fill="none" stroke="#00cc00" stroke-width="5.2" stroke-linejoin="round"/>
<polyline clip-path="url(#clipe)" points="761.4,904.2 762.2,898.3 763.1,893.5 763.9,889.4 764.7,885.8 765.5,882.5 766.4,879.6 767.2,876.9 768,874.4 768.9,872 769.7,869.9 770.5,867.8 771.4,865.9 772.2,864 773,862.2 773.9,860.6 774.7,858.9 775.5,857.4 776.4,855.9 777.2,854.5 778,853.1 778.8,851.7 779.7,850.4 780.5,849.2 781.3,848 782.2,846.8 783,845.6 783.8,844.5 784.7,843.4 785.5,842.3 786.3,841.3 787.2,840.3 788,839.3 788.8,838.3 789.7,837.3 790.5,836.4 791.3,835.5 792.1,834.6 795.5,831.2 798.8,828 802.1,825 805.4,822.2 808.8,819.5 812.1,817 815.4,814.6 818.7,812.3 822.1,810 825.4,807.9 828.7,805.9 832,803.9 835.4,802 838.7,800.2 842,798.4 845.3,796.7 848.7,795 852,793.4 855.3,791.8 858.6,790.3 862,788.8 865.3,787.3 868.6,785.9 871.9,784.5 875.3,783.1 878.6,781.8 881.9,780.5 885.2,779.2 888.6,777.9 891.9,776.7 895.2,775.5 898.5,774.3 901.9,773.2 905.2,772 908.5,770.9 911.8,769.8 915.2,768.7 918.5,767.6 921.8,766.6 925.1,765.6 928.5,764.5 931.8,763.5 935.1,762.6 938.4,761.6 941.8,760.6 945.1,759.7 948.4,758.8 951.7,757.8 955.1,756.9 958.4,756 961.7,755.2 965,754.3 968.4,753.4 971.7,752.6 975,751.7 978.3,750.9 981.7,750.1 985,749.3 988.3,748.5 991.6,747.7 995,746.9 998.3,746.1 1001.6,745.3 1004.9,744.6 1008.2,743.8 1011.6,743.1 1014.9,742.3 1018.2,741.6 1021.5,740.9 1024.9,740.2 1028.2,739.5 1031.5,738.8 1034.8,738.1 1038.2,737.4 1041.5,736.7 1044.8,736 1048.1,735.3 1051.5,734.7 1054.8,734 1058.1,733.4 1061.4,732.7 1064.8,732.1 1068.1,731.4 1071.4,730.8 1074.7,730.2 1078.1,729.6 1081.4,729 1084.7,728.3 1088,727.7 1091.4,727.1 1094.7,726.5 1098,725.9 1101.3,725.4 1104.7,724.8 1108,724.2 1111.3,723.6 1114.6,723.1 1118,722.5 1121.3,721.9 1124.6,721.4 1127.9,720.8 1131.3,720.3 1134.6,719.7 1137.9,719.2 1141.2,718.6 1144.6,718.1 1147.9,717.6 1151.2,717 1154.5,716.5 1157.9,716 1161.2,715.5 1164.5,715 1167.8,714.4 1171.2,713.9 1174.5,713.4 1177.8,712.9 1181.1,712.4 1184.5,711.9 1187.8,711.4 1190.4,711" fill="none" stroke="#ff0000" stroke-width="5.2" stroke-linejoin="round"/>
<polyline clip-path="url(#clipe)" points="758.9,841.8 761.1,841.4 763.2,840.9 765.4,840.5 767.5,840.1 769.7,839.7 771.8,839.3 774,838.9 776.2,838.5 778.3,838.1 780.5,837.6 782.6,837.2 784.8,836.8 787,836.4 789.1,836 791.3,835.6 793.4,835.2 795.6,834.8 797.7,834.3 799.9,833.9 802.1,833.5 804.2,833.1 806.4,832.7 808.5,832.3 810.7,831.9 812.8,831.5 815,831 817.2,830.6 819.3,830.2 821.5,829.8 823.6,829.4 825.8,829 827.9,828.6 830.1,828.2 832.3,827.7 834.4,827.3 836.6,826.9 838.7,826.5 840.9,826.1 843.1,825.7 845.2,825.3 847.4,824.9 849.5,824.4 851.7,824 853.8,823.6 856,823.2 858.2,822.8 860.3,822.4 862.5,822 864.6,821.6 866.8,821.1 868.9,820.7 871.1,820.3 873.3,819.9 875.4,819.5 877.6,819.1 879.7,818.7 881.9,818.3 884,817.8 886.2,817.4 888.4,817 890.5,816.6 892.7,816.2 894.8,815.8 897,815.4 899.2,815 901.3,814.5 903.5,814.1 905.6,813.7 907.8,813.3 909.9,812.9 912.1,812.5 914.3,812.1 916.4,811.7 918.6,811.2 920.7,810.8 922.9,810.4 925,810 927.2,809.6 929.4,809.2 931.5,808.8 933.7,808.4 935.8,807.9 938,807.5 940.1,807.1 942.3,806.7 944.5,806.3 946.6,805.9 948.8,805.5 950.9,805.1 953.1,804.6 955.3,804.2 957.4,803.8 959.6,803.4 961.7,803 963.9,802.6 966,802.2 968.2,801.8 970.4,801.3 972.5,800.9 974.7,800.5 976.8,800.1 979,799.7 981.1,799.3 983.3,798.9 985.5,798.5 987.6,798 989.8,797.6 991.9,797.2 994.1,796.8 996.2,796.4 998.4,796 1000.6,795.6 1002.7,795.2 1004.9,794.7 1007,794.3 1009.2,793.9 1011.4,793.5 1013.5,793.1 1015.7,792.7 1017.8,792.3 1020,791.9 1022.1,791.4 1024.3,791 1026.5,790.6 1028.6,790.2 1030.8,789.8 1032.9,789.4 1035.1,789 1037.2,788.6 1039.4,788.1 1041.6,787.7 1043.7,787.3 1045.9,786.9 1048,786.5 1050.2,786.1 1052.3,785.7 1054.5,785.3 1056.7,784.8 1058.8,784.4 1061,784 1063.1,783.6 1065.3,783.2 1067.5,782.8 1069.6,782.4 1071.8,782 1073.9,781.5 1076.1,781.1 1078.2,780.7 1080.4,780.3 1082.6,779.9 1084.7,779.5 1086.9,779.1 1089,778.7 1091.2,778.2 1093.3,777.8 1095.5,777.4 1097.7,777 1099.8,776.6 1102,776.2 1104.1,775.8 1106.3,775.4 1108.4,774.9 1110.6,774.5 1112.8,774.1 1114.9,773.7 1117.1,773.3 1119.2,772.9 1121.4,772.5 1123.6,772.1 1125.7,771.6 1127.9,771.2 1130,770.8 1132.2,770.4 1134.3,770 1136.5,769.6 1138.7,769.2 1140.8,768.8 1143,768.3 1145.1,767.9 1147.3,767.5 1149.4,767.1 1151.6,766.7 1153.8,766.3 1155.9,765.9 1158.1,765.5 1160.2,765 1162.4,764.6 1164.5,764.2 1166.7,763.8 1168.9,763.4 1171,763 1173.2,762.6 1175.3,762.2 1177.5,761.7 1179.7,761.3 1181.8,760.9 1184,760.5 1186.1,760.1 1188.3,759.7 1190.4,759.3" fill="none" stroke="#0000ff" stroke-width="5.2" stroke-linejoin="round"/>
<g fill="#999999"><circle cx="1793.7" cy="529" r="4.9"/><circle cx="1741.4" cy="549.7" r="4.9"/><circle cx="1740.9" cy="576.9" r="4.9"/><circle cx="1721.3" cy="587.8" r="4.9"/><circle cx="1671.9" cy="595.5" r="4.9"/><circle cx="1665.4" cy="609.1" r="4.9"/><circle cx="1698.1" cy="613.5" r="4.9"/><circle cx="1786.7" cy="593.6" r="4.9"/><circle cx="1796.5" cy="589" r="4.9"/><circle cx="1857" cy="587.8" r="4.9"/><circle cx="1628.1" cy="584" r="4.9"/><circle cx="1596.8" cy="602.7" r="4.9"/><circle cx="1604.5" cy="628.1" r="4.9"/><circle cx="1605.4" cy="633.6" r="4.9"/><circle cx="1593.1" cy="637.2" r="4.9"/><circle cx="1586.8" cy="649.9" r="4.9"/><circle cx="1554.9" cy="624.3" r="4.9"/><circle cx="1446.7" cy="647.8" r="4.9"/><circle cx="1490" cy="672.3" r="4.9"/><circle cx="1475.3" cy="676.4" r="4.9"/><circle cx="1538.2" cy="669.9" r="4.9"/><circle cx="1433.6" cy="719.8" r="4.9"/><circle cx="1423.8" cy="723.8" r="4.9"/><circle cx="1418.1" cy="727.9" r="4.9"/><circle cx="1452.4" cy="723" r="4.9"/><circle cx="1376.4" cy="745.1" r="4.9"/><circle cx="1366.5" cy="746.7" r="4.9"/><circle cx="1379.6" cy="760.6" r="4.9"/><circle cx="1391.1" cy="783.5" r="4.9"/><circle cx="1381" cy="841" r="4.9"/><circle cx="1378" cy="852" r="4.9"/><circle cx="1376" cy="864" r="4.9"/><circle cx="1374" cy="874" r="4.9"/><circle cx="1373" cy="882" r="4.9"/><circle cx="1372" cy="890" r="4.9"/><circle cx="1372" cy="897" r="4.9"/><circle cx="1371" cy="906" r="4.9"/><circle cx="1364" cy="880" r="4.9"/><circle cx="1364" cy="892" r="4.9"/><circle cx="1366.5" cy="924" r="4.9"/><circle cx="1368" cy="927" r="4.9"/><circle cx="1366.5" cy="930" r="4.9"/><circle cx="1368" cy="933" r="4.9"/><circle cx="1366.5" cy="936" r="4.9"/><circle cx="1368" cy="939" r="4.9"/><circle cx="1366.5" cy="942" r="4.9"/><circle cx="1368" cy="945" r="4.9"/><circle cx="1366.5" cy="948" r="4.9"/><circle cx="1368" cy="951" r="4.9"/><circle cx="1366.5" cy="954" r="4.9"/><circle cx="1368" cy="957" r="4.9"/></g>
<polyline clip-path="url(#clipf)" points="1366.9,926.3 1367.3,896.4 1367.7,879 1368.1,866.6 1368.5,857 1368.9,849.1 1369.3,842.5 1369.7,836.7 1370.1,831.7 1370.5,827.1 1371.5,817.5 1372.5,809.7 1373.5,803 1374.5,797.3 1375.5,792.2 1376.5,787.7 1377.5,783.6 1378.5,779.8 1379.5,776.4 1380.5,773.2 1381.5,770.2 1382.5,767.4 1383.5,764.8 1384.5,762.3 1385.5,760 1386.5,757.8 1387.4,755.7 1388.4,753.7 1389.4,751.8 1390.4,750 1391.4,748.2 1392.4,746.5 1393.4,744.9 1394.4,743.3 1395.4,741.8 1396.4,740.3 1397.4,738.9 1398.4,737.6 1399.4,736.2 1400.4,735 1401.4,733.7 1402.4,732.5 1403.4,731.3 1404.4,730.2 1405.4,729 1406.4,728 1407.4,726.9 1408.4,725.8 1409.4,724.8 1410.4,723.8 1411.4,722.9 1412.4,721.9 1413.4,721 1414.4,720.1 1415.4,719.2 1416.4,718.3 1417.4,717.5 1418.1,716.9 1423.8,712.4 1433.6,705.6 1446.7,697.9 1452.4,694.9 1475.3,684.7 1490,679.3 1538.2,665.1 1554.9,661.1 1586.8,654.4 1593.1,653.1 1596.8,652.5 1604.5,651 1605.4,650.9 1628.1,647 1665.4,641.2 1671.9,640.3 1698.1,636.8 1721.3,633.8 1740.9,631.5 1741.4,631.5 1786.7,626.6 1793.7,625.8 1796.5,625.6 1855.7,620 1857,619.9" fill="none" stroke="#ff00ff" stroke-width="5.2" stroke-linejoin="round"/>
<polyline clip-path="url(#clipf)" points="1366.9,909.8 1367.3,905 1367.7,900.3 1368.1,895.7 1368.5,891.2 1368.9,886.8 1369.3,882.5 1369.7,878.3 1370.1,874.1 1370.5,870.1 1371.5,860.2 1372.5,850.9 1373.5,842 1374.5,833.5 1375.5,825.5 1376.5,817.8 1377.5,810.5 1378.5,803.6 1379.5,797 1380.5,790.8 1381.5,784.8 1382.5,779.1 1383.5,773.7 1384.5,768.6 1385.5,763.7 1386.5,759.1 1387.4,754.7 1388.4,750.5 1389.4,746.5 1390.4,742.7 1391.4,739.1 1392.4,735.6 1393.4,732.4 1394.4,729.2 1395.4,726.3 1396.4,723.5 1397.4,720.8 1398.4,718.2 1399.4,715.8 1400.4,713.5 1401.4,711.3 1402.4,709.2 1403.4,707.2 1404.4,705.4 1405.4,703.6 1406.4,701.9 1407.4,700.2 1408.4,698.7 1409.4,697.2 1410.4,695.8 1411.4,694.5 1412.4,693.2 1413.4,692 1414.4,690.9 1415.4,689.8 1416.4,688.8 1417.4,687.8 1418.1,687.1 1423.8,682.5 1433.6,677.1 1446.7,673 1452.4,671.9 1475.3,669.6 1490,669.1 1538.2,668.6 1554.9,668.6 1586.8,668.6 1593.1,668.6 1596.8,668.6 1604.5,668.6 1605.4,668.6 1628.1,668.6 1665.4,668.6 1671.9,668.6 1698.1,668.6 1721.3,668.6 1740.9,668.6 1741.4,668.6 1786.7,668.6 1793.7,668.6 1796.5,668.6 1855.7,668.6 1857,668.6" fill="none" stroke="#00cc00" stroke-width="5.2" stroke-linejoin="round"/>
<polyline clip-path="url(#clipf)" points="1366.9,900.4 1367.3,884.3 1367.7,873.6 1368.1,865.4 1368.5,858.7 1368.9,852.9 1369.3,847.8 1369.7,843.2 1370.1,839 1370.5,835.2 1371.5,826.8 1372.5,819.6 1373.5,813.3 1374.5,807.6 1375.5,802.5 1376.5,797.8 1377.5,793.4 1378.5,789.3 1379.5,785.5 1380.5,781.9 1381.5,778.5 1382.5,775.2 1383.5,772.1 1384.5,769.1 1385.5,766.3 1386.5,763.6 1387.4,761 1388.4,758.4 1389.4,756 1390.4,753.6 1391.4,751.3 1392.4,749.1 1393.4,747 1394.4,744.9 1395.4,742.8 1396.4,740.9 1397.4,738.9 1398.4,737 1399.4,735.2 1400.4,733.4 1401.4,731.6 1402.4,729.9 1403.4,728.2 1404.4,726.6 1405.4,724.9 1406.4,723.4 1407.4,721.8 1408.4,720.3 1409.4,718.8 1410.4,717.3 1411.4,715.8 1412.4,714.4 1413.4,713 1414.4,711.6 1415.4,710.3 1416.4,709 1417.4,707.6 1418.1,706.7 1423.8,699.6 1433.6,688.6 1446.7,675.7 1452.4,670.5 1475.3,652.2 1490,642 1538.2,613.9 1554.9,605.6 1586.8,591.2 1593.1,588.5 1596.8,587 1604.5,583.9 1605.4,583.5 1628.1,574.7 1665.4,561.5 1671.9,559.3 1698.1,550.9 1721.3,543.8 1740.9,538.1 1741.4,538 1786.7,525.7 1793.7,523.9 1796.5,523.2 1855.7,508.8 1857,508.5" fill="none" stroke="#ff0000" stroke-width="5.2" stroke-linejoin="round"/>
<polyline clip-path="url(#clipf)" points="1366.5,838.2 1368.9,834.3 1371.4,830.4 1373.8,826.5 1376.3,822.6 1378.7,818.7 1381.2,814.8 1383.6,810.9 1386.1,807 1388.5,803.1 1391,799.2 1393.4,795.3 1395.9,791.4 1398.3,787.5 1400.7,783.6 1403.2,779.7 1405.6,775.8 1408.1,772 1410.5,768.1 1413,764.2 1415.4,760.3 1417.9,756.4 1420.3,752.5 1422.8,748.6 1425.2,744.7 1427.7,740.8 1430.1,736.9 1432.5,733 1435,729.1 1437.4,725.2 1439.9,721.3 1442.3,717.4 1444.8,713.5 1447.2,709.6 1449.7,705.7 1452.1,701.8 1454.6,697.9 1457,694 1459.5,690.1 1461.9,686.2 1464.3,682.3 1466.8,678.5 1469.2,674.6 1471.7,670.7 1474.1,666.8 1476.6,662.9 1479,659 1481.5,655.1 1483.9,651.2 1486.4,647.3 1488.8,643.4 1491.3,639.5 1493.7,635.6 1496.1,631.7 1498.6,627.8 1501,623.9 1503.5,620 1505.9,616.1 1508.4,612.2 1510.8,608.3 1513.3,604.4 1515.7,600.5 1518.2,596.6 1520.6,592.7 1523.1,588.9 1525.5,585 1527.9,581.1 1530.4,577.2 1532.8,573.3 1535.3,569.4 1537.7,565.5 1540.2,561.6 1542.6,557.7 1545.1,553.8 1547.5,549.9 1550,546 1552.4,542.1 1554.9,538.2 1557.3,534.3 1559.7,530.4 1562.2,526.5 1564.6,522.6 1567.1,518.7 1569.5,514.8 1572,510.9 1574.4,507 1576.9,503.1 1579.3,499.2 1581.8,495.4 1584.2,491.5 1586.7,487.6 1589.1,483.7 1591.5,479.8 1594,475.9 1596.4,472 1598.9,468.1 1601.3,464.2 1603.8,460.3 1606.2,456.4 1608.7,452.5 1611.1,448.6 1613.6,444.7 1616,440.8 1618.4,436.9 1620.9,433 1623.3,429.1 1625.8,425.2 1628.2,421.3 1630.7,417.4 1633.1,413.5 1635.6,409.6 1638,405.7 1640.5,401.9 1642.9,398 1645.4,394.1 1647.8,390.2 1650.2,386.3 1652.7,382.4 1655.1,378.5 1657.6,374.6 1660,370.7 1662.5,366.8 1664.9,362.9 1667.4,359 1669.8,355.1 1672.3,351.2 1674.7,347.3 1677.2,343.4 1679.6,339.5 1682,335.6 1684.5,331.7 1686.9,327.8 1689.4,323.9 1691.8,320 1694.3,316.1 1696.7,312.3 1699.2,308.4 1701.6,304.5 1704.1,300.6 1706.5,296.7 1709,292.8 1711.4,288.9 1713.8,285 1716.3,281.1 1718.7,277.2 1721.2,273.3 1723.6,269.4 1726.1,265.5 1728.5,261.6 1731,257.7 1733.4,253.8 1735.9,249.9 1738.3,246 1740.8,242.1 1743.2,238.2 1745.6,234.3 1748.1,230.4 1750.5,226.5 1753,222.6 1755.4,218.8 1757.9,214.9 1760.3,211 1762.8,207.1 1765.2,203.2 1767.7,199.3 1770.1,195.4 1772.6,191.5 1775,187.6 1777.4,183.7 1779.9,179.8 1782.3,175.9 1784.8,172 1787.2,168.1 1789.7,164.2 1792.1,160.3 1794.6,156.4 1797,152.5 1799.5,148.6 1801.9,144.7 1804.4,140.8 1806.8,136.9 1809.2,133 1811.7,129.1 1814.1,125.3 1816.6,121.4 1819,117.5 1821.5,113.6 1823.9,109.7 1826.4,105.8 1828.8,101.9 1831.3,98 1833.7,94.1 1836.2,90.2 1838.6,86.3 1841,82.4 1843.5,78.5 1845.9,74.6 1848.4,70.7 1850.8,66.8 1853.3,62.9 1855.7,59" fill="none" stroke="#0000ff" stroke-width="5.2" stroke-linejoin="round"/>
<g font-size="33"><circle cx="244.8" cy="65.4" r="4.9" fill="#999999"/><text x="298.4" y="77.3">Fungwong</text><line x1="202.1" y1="103.8" x2="292.6" y2="103.8" stroke="#0000ff" stroke-width="5.6"/><text x="298.4" y="118">Linear</text><line x1="202.1" y1="144.3" x2="292.6" y2="144.3" stroke="#ff0000" stroke-width="5.6"/><text x="298.4" y="156.6">Power</text></g>
<g font-size="33"><circle cx="840.8" cy="65.9" r="4.9" fill="#999999"/><text x="895.3" y="78">Lupit</text><line x1="799" y1="103.8" x2="889.5" y2="103.8" stroke="#0000ff" stroke-width="5.6"/><text x="895.3" y="118.5">Linear</text><line x1="799" y1="144.3" x2="889.5" y2="144.3" stroke="#ff0000" stroke-width="5.6"/><text x="895.3" y="156.7">Power</text></g>
<g font-size="33"><circle cx="1448.6" cy="65.9" r="4.9" fill="#999999"/><text x="1501.7" y="78">Namtheun</text><line x1="1405.4" y1="103.8" x2="1495.9" y2="103.8" stroke="#0000ff" stroke-width="5.6"/><text x="1501.7" y="118.5">Linear</text><line x1="1405.4" y1="144.3" x2="1495.9" y2="144.3" stroke="#ff0000" stroke-width="5.6"/><text x="1501.7" y="156.7">Power</text></g>
<g font-size="33"><circle cx="245" cy="576" r="4.9" fill="#999999"/><text x="298.3" y="590">Fungwong</text><line x1="202" y1="614.4" x2="292.5" y2="614.4" stroke="#ff00ff" stroke-width="5.6"/><text x="298.3" y="628">Log</text><line x1="202" y1="655" x2="292.5" y2="655" stroke="#00cc00" stroke-width="5.6"/><text x="298.3" y="667">Exp</text><line x1="202" y1="693.6" x2="292.5" y2="693.6" stroke="#ff0000" stroke-width="5.6"/><text x="298.3" y="706">Power</text><line x1="202" y1="734" x2="292.5" y2="734" stroke="#0000ff" stroke-width="5.6"/><text x="298.3" y="745">Linear</text></g>
<g font-size="33"><circle cx="1072" cy="779" r="4.9" fill="#999999"/><text x="1124.9" y="793">Lupit</text><line x1="1028.6" y1="817.5" x2="1119.1" y2="817.5" stroke="#ff00ff" stroke-width="5.6"/><text x="1124.9" y="832">Log</text><line x1="1028.6" y1="858.3" x2="1119.1" y2="858.3" stroke="#00cc00" stroke-width="5.6"/><text x="1124.9" y="871.5">Exp</text><line x1="1028.6" y1="896.9" x2="1119.1" y2="896.9" stroke="#ff0000" stroke-width="5.6"/><text x="1124.9" y="910">Power</text><line x1="1028.6" y1="936.8" x2="1119.1" y2="936.8" stroke="#0000ff" stroke-width="5.6"/><text x="1124.9" y="949.5">Linear</text></g>
<g font-size="33"><circle cx="1627" cy="779" r="4.9" fill="#999999"/><text x="1678.3" y="793">Namtheun</text><line x1="1582" y1="817.4" x2="1672.5" y2="817.4" stroke="#ff00ff" stroke-width="5.6"/><text x="1678.3" y="832">Log</text><line x1="1582" y1="858" x2="1672.5" y2="858" stroke="#00cc00" stroke-width="5.6"/><text x="1678.3" y="871.5">Exp</text><line x1="1582" y1="896.9" x2="1672.5" y2="896.9" stroke="#ff0000" stroke-width="5.6"/><text x="1678.3" y="910">Power</text><line x1="1582" y1="937.3" x2="1672.5" y2="937.3" stroke="#0000ff" stroke-width="5.6"/><text x="1678.3" y="949.5">Linear</text></g>
<text x="482.5" y="459.8" text-anchor="middle" font-size="36.5">(a)</text>
<text x="946.4" y="459.8" text-anchor="middle" font-size="36.5">(b)</text>
<text x="1504.4" y="464.3" text-anchor="middle" font-size="36.5">(c)</text>
<text x="483.9" y="927.0" text-anchor="middle" font-size="36.5">(d)</text>
<text x="944.0" y="927.0" text-anchor="middle" font-size="36.5">(e)</text>
<text x="1503.0" y="927.0" text-anchor="middle" font-size="36.5">(f)</text>
<text x="410.8" y="1095.5" text-anchor="middle" font-size="37" letter-spacing="1.9">I (mm h<tspan font-size="30" dy="-18.5">-1</tspan><tspan dy="18.5">)</tspan></text>
<text x="1007.0" y="1095.5" text-anchor="middle" font-size="37" letter-spacing="1.9">I (mm h<tspan font-size="30" dy="-18.5">-1</tspan><tspan dy="18.5">)</tspan></text>
<text x="1614.6" y="1095.5" text-anchor="middle" font-size="37" letter-spacing="1.9">I (mm h<tspan font-size="30" dy="-18.5">-1</tspan><tspan dy="18.5">)</tspan></text>
<text transform="translate(41.7,251.4) rotate(-90)" text-anchor="middle" font-size="37" letter-spacing="1.45">KE<tspan font-size="30.5" dy="17.6">time</tspan><tspan dy="-17.6"> (J m</tspan><tspan font-size="30" dy="-19">-2</tspan><tspan dy="19">h</tspan><tspan font-size="30" dy="-19">-1</tspan><tspan dy="19">)</tspan></text>
<text transform="translate(78.0,756.0) rotate(-90)" text-anchor="middle" font-size="37" letter-spacing="1.45">KE<tspan font-size="30.5" dy="17.6">mm</tspan><tspan dy="-17.6"> (J m</tspan><tspan font-size="30" dy="-19">-2</tspan><tspan dy="19">mm</tspan><tspan font-size="30" dy="-19">-1</tspan><tspan dy="19">)</tspan></text>
</svg></div></body></html>
